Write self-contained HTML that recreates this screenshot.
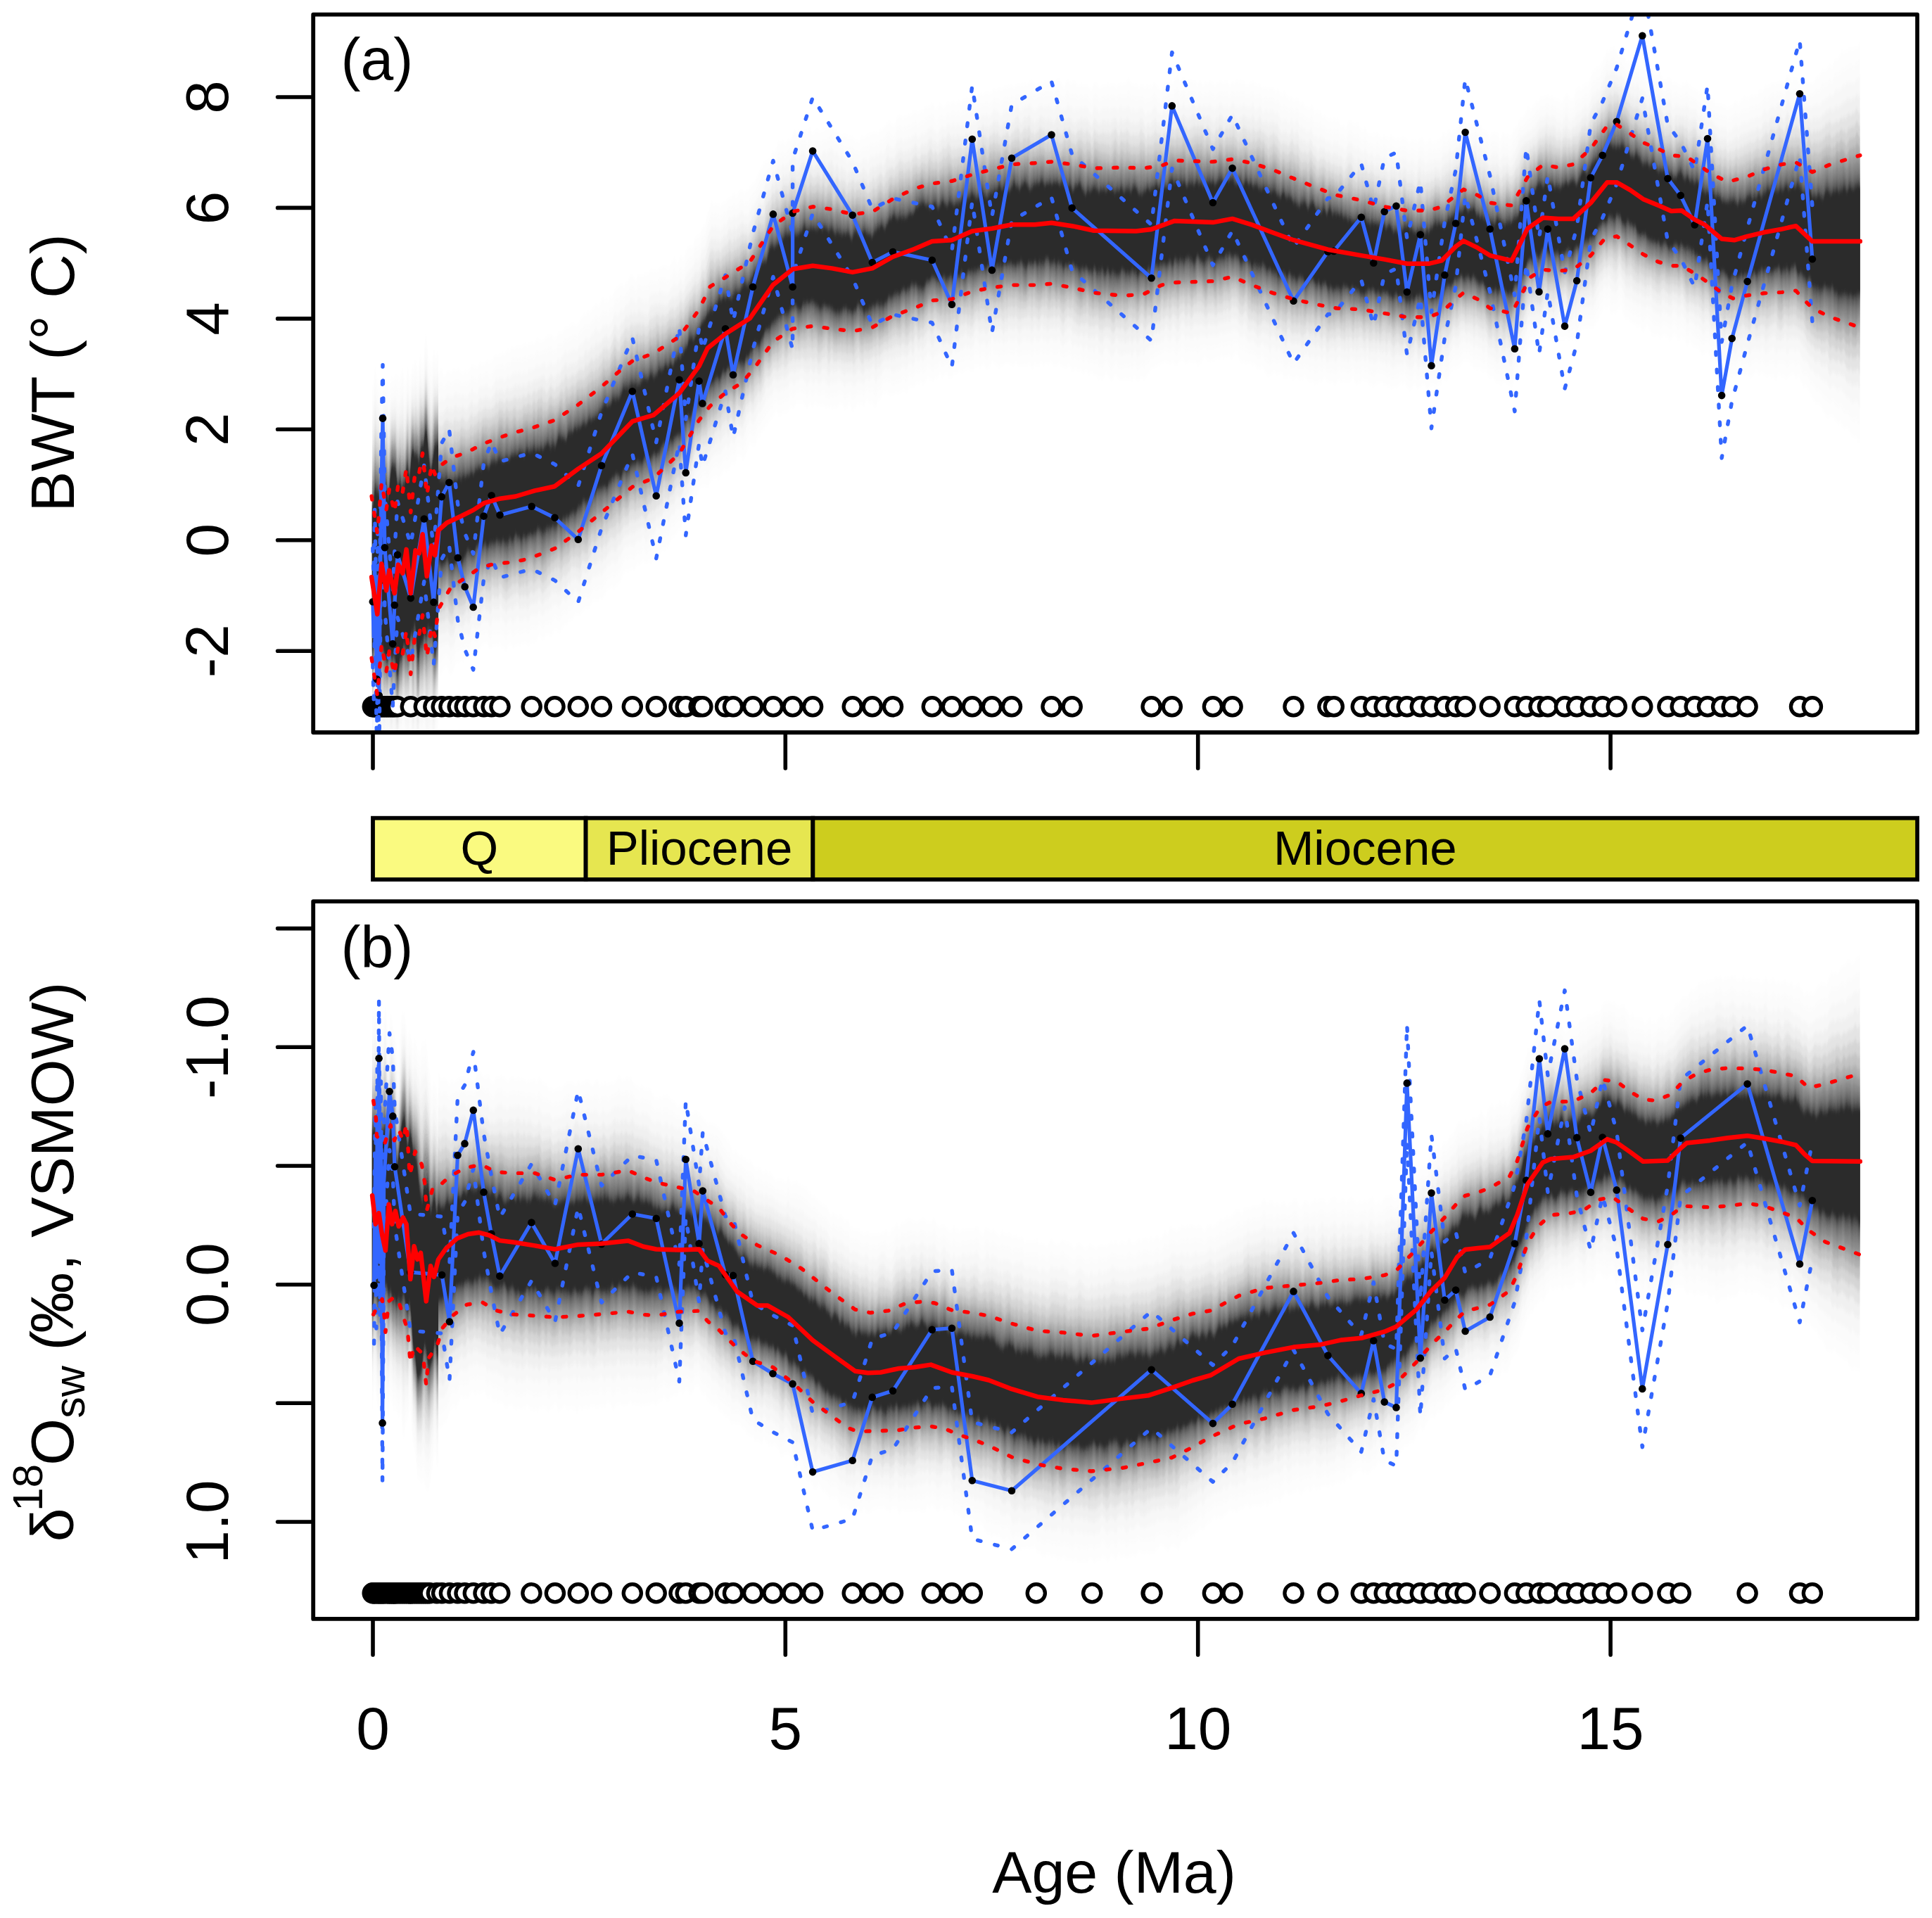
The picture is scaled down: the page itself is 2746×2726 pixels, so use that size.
<!DOCTYPE html>
<html><head><meta charset="utf-8"><title>BWT and d18Osw</title>
<style>html,body{margin:0;padding:0;background:#fff;overflow:hidden;width:2746px;height:2726px}svg{display:block}</style></head>
<body>
<svg width="2746" height="2726" viewBox="0 0 2746 2726" font-family='"Liberation Sans", Arial, Helvetica, sans-serif'>
<rect width="2746" height="2726" fill="#fff"/>
<defs><filter id="vb" x="0" y="-10%" width="100%" height="120%" color-interpolation-filters="sRGB"><feGaussianBlur in="SourceGraphic" stdDeviation="0 3" result="b"/><feTurbulence type="fractalNoise" baseFrequency="0.13 0.008" numOctaves="2" seed="7" result="n"/><feColorMatrix in="n" type="matrix" values="0 0 0 0 0.5  0 1 0 0 0  0 0 1 0 0  0 0 0 0 1" result="n2"/><feDisplacementMap in="b" in2="n2" scale="22" xChannelSelector="R" yChannelSelector="G"/></filter><filter id="vb2" x="0" y="-40%" width="100%" height="180%" color-interpolation-filters="sRGB"><feGaussianBlur in="SourceGraphic" stdDeviation="0 5" result="b"/><feTurbulence type="fractalNoise" baseFrequency="0.1 0.002" numOctaves="2" seed="11" result="n"/><feColorMatrix in="n" type="matrix" values="0 0 0 0 0.5  0 1 0 0 0  0 0 1 0 0  0 0 0 0 1" result="n2"/><feDisplacementMap in="b" in2="n2" scale="150" xChannelSelector="R" yChannelSelector="G"/></filter></defs>
<clipPath id="ca"><rect x="445.2" y="20.7" width="2279.9" height="1020.3"/></clipPath>
<g clip-path="url(#ca)">
<g filter="url(#vb2)"><polygon points="528.8,548.8 560,543.8 590,515.8 623,506.8 623,1059.2 590,1064.2 560,1072.2 528.8,1071.2" fill="rgb(43,43,43)" fill-opacity="0.006"/>
<polygon points="528.8,566.1 560,561.1 590,533.1 623,524.1 623,1041.9 590,1046.9 560,1054.9 528.8,1053.9" fill="rgb(43,43,43)" fill-opacity="0.014"/>
<polygon points="528.8,583.4 560,578.4 590,550.4 623,541.4 623,1024.6 590,1029.6 560,1037.6 528.8,1036.6" fill="rgb(43,43,43)" fill-opacity="0.020"/>
<polygon points="528.8,600.7 560,595.7 590,567.7 623,558.7 623,1007.3 590,1012.3 560,1020.3 528.8,1019.3" fill="rgb(43,43,43)" fill-opacity="0.036"/>
<polygon points="528.8,616.3 560,611.3 590,583.3 623,574.3 623,991.7 590,996.7 560,1004.7 528.8,1003.7" fill="rgb(43,43,43)" fill-opacity="0.059"/>
<polygon points="528.8,630.1 560,625.1 590,597.1 623,588.1 623,977.9 590,982.9 560,990.9 528.8,989.9" fill="rgb(43,43,43)" fill-opacity="0.080"/>
<polygon points="528.8,642.2 560,637.2 590,609.2 623,600.2 623,965.8 590,970.8 560,978.8 528.8,977.8" fill="rgb(43,43,43)" fill-opacity="0.100"/>
<polygon points="528.8,652.6 560,647.6 590,619.6 623,610.6 623,955.4 590,960.4 560,968.4 528.8,967.4" fill="rgb(43,43,43)" fill-opacity="0.125"/>
<polygon points="528.8,661.3 560,656.3 590,628.3 623,619.3 623,946.7 590,951.7 560,959.7 528.8,958.7" fill="rgb(43,43,43)" fill-opacity="0.159"/>
<polygon points="528.8,669 560,664 590,636 623,627 623,939 590,944 560,952 528.8,951" fill="rgb(43,43,43)" fill-opacity="0.151"/>
<polygon points="528.8,676 560,671 590,643 623,634 623,932 590,937 560,945 528.8,944" fill="rgb(43,43,43)" fill-opacity="0.156"/>
<polygon points="528.8,682 560,677 590,649 623,640 623,926 590,931 560,939 528.8,938" fill="rgb(43,43,43)" fill-opacity="0.211"/>
<polygon points="528.8,687.2 560,682.2 590,654.2 623,645.2 623,920.8 590,925.8 560,933.8 528.8,932.8" fill="rgb(43,43,43)" fill-opacity="0.267"/>
<polygon points="528.8,691.1 560,686.1 590,658.1 623,649.1 623,916.9 590,921.9 560,929.9 528.8,928.9" fill="rgb(43,43,43)" fill-opacity="0.455"/>
<polygon points="528.8,695 560,690 590,662 623,653 623,913 590,918 560,926 528.8,925" fill="rgb(43,43,43)" fill-opacity="1.000"/></g>
<g filter="url(#vb)"><polygon points="623,529.9 641.3,529.9 663.3,526.5 681.1,519.5 686,516.1 703.8,508.1 707,506.2 726.4,496 730.3,494.2 750.6,488.3 755.5,487.5 788.5,477.1 821.8,456.4 855,432.1 878,411.4 898.8,395.6 929.1,385.8 965.5,369.3 993.6,337 1009.3,295.7 1031,286.2 1054.7,270.9 1065.7,268.1 1073,255.3 1098.9,213.2 1126.6,191.9 1155.1,182.2 1182.5,185.9 1211.7,195.6 1239.8,193.1 1269,173.7 1299.3,156.7 1324.8,151.8 1352.9,146.9 1381.8,139 1409.9,130.5 1438,120.8 1470.8,117.8 1494.5,115.9 1523.7,118.4 1554.7,122.7 1596.5,118 1625.7,121.5 1651.2,123.8 1669.5,114.1 1723.9,118.3 1751.6,116.4 1779,117.8 1808.2,125.7 1838.5,140.9 1870.2,157.2 1899.4,171.8 1934.8,182.7 1967.7,194.2 1999.8,199.7 2030.8,199.7 2049.1,195.4 2069.1,180.2 2080.1,172.9 2100.1,180.2 2117.7,189.9 2148.5,191.2 2163.8,165.3 2171.1,153.5 2174.8,153.4 2193,136.4 2214.9,141.3 2236.1,135.2 2260.9,112.1 2280.6,81.8 2284.3,73.8 2297.8,72.6 2317.1,85.4 2335.4,98.2 2357.3,106.1 2375.5,117.6 2390.1,119.7 2397.4,117.9 2412,129.2 2415.7,131.8 2430.3,142 2433.9,144.4 2447.1,148 2455.8,151.9 2463.1,146.3 2483.6,140.3 2506.9,125.2 2532.5,114.1 2552.5,110.7 2565.3,114.1 2575.9,117.4 2601.8,90.8 2643.7,60.1 2643.7,626.1 2601.8,593.6 2575.9,565.2 2565.3,551.2 2552.5,533.2 2532.5,534.9 2506.9,532.5 2483.6,530.6 2463.1,534.4 2455.8,527.1 2447.1,522.5 2433.9,509.9 2430.3,507 2415.7,496.8 2412,494.2 2397.4,486.9 2390.1,480.2 2375.5,481 2357.3,477.9 2335.4,465.8 2317.1,453 2297.8,440.2 2284.3,443.8 2280.6,441.7 2260.9,462.8 2236.1,481.7 2214.9,481.8 2193,481.2 2174.8,489.7 2171.1,499.9 2163.8,515.6 2148.5,546.1 2117.7,536.3 2100.1,522.4 2080.1,512.5 2069.1,522.4 2049.1,541.8 2030.8,550.3 1999.8,550.3 1967.7,544.8 1934.8,541.8 1899.4,543.5 1870.2,541.7 1838.5,538 1808.2,531.2 1779,519.1 1751.6,503.3 1723.9,511.2 1669.5,515.4 1651.2,516.7 1625.7,535.5 1596.5,540.4 1554.7,532.4 1523.7,523.9 1494.5,517.3 1470.8,519.1 1438,517.9 1409.9,519.1 1381.8,523.4 1352.9,535.6 1324.8,536.2 1299.3,549.5 1269,558.1 1239.8,573.3 1211.7,580 1182.5,578.7 1155.1,575.1 1126.6,576.3 1098.9,593.4 1073,627.7 1065.7,634.8 1054.7,652 1031,666.4 1009.3,688.6 993.6,700.3 965.5,753.7 929.1,795.6 898.8,809.6 878,827.5 855,846 821.8,874.6 788.5,899.5 755.5,913.6 750.6,915.9 730.3,919.2 726.4,919.6 707,917.5 703.8,917 686,921 681.1,921.6 663.3,936.8 641.3,954.5 623,954.5" fill="rgb(43,43,43)" fill-opacity="0.006"/>
<polygon points="623,548.3 641.3,548.3 663.3,544.3 681.1,536.8 686,533.6 703.8,525.8 707,524 726.4,514.3 730.3,512.6 750.6,506.7 755.5,505.9 788.5,495.3 821.8,474.5 855,449.9 878,429.4 898.8,413.4 929.1,403.5 965.5,385.9 993.6,352.7 1009.3,312.7 1031,302.6 1054.7,287.4 1065.7,284 1073,271.4 1098.9,229.6 1126.6,208.5 1155.1,199.2 1182.5,202.8 1211.7,212.2 1239.8,209.5 1269,190.3 1299.3,173.6 1324.8,168.4 1352.9,163.7 1381.8,155.6 1409.9,147.3 1438,137.9 1470.8,135.1 1494.5,133.3 1523.7,135.9 1554.7,140.4 1596.5,136.2 1625.7,139.4 1651.2,140.8 1669.5,131.5 1723.9,135.3 1751.6,133.1 1779,135.1 1808.2,143.2 1838.5,158 1870.2,173.8 1899.4,187.8 1934.8,198.2 1967.7,209.4 1999.8,214.8 2030.8,214.8 2049.1,210.4 2069.1,195 2080.1,187.5 2100.1,195 2117.7,204.9 2148.5,206.5 2163.8,180.5 2171.1,168.4 2174.8,167.9 2193,151.3 2214.9,156 2236.1,150.2 2260.9,127.3 2280.6,97.3 2284.3,89.8 2297.8,88.5 2317.1,101.3 2335.4,114.1 2357.3,122.2 2375.5,133.3 2390.1,135.2 2397.4,133.8 2412,145 2415.7,147.5 2430.3,157.7 2433.9,160.2 2447.1,164.2 2455.8,168.1 2463.1,163.1 2483.6,157.1 2506.9,142.8 2532.5,132.3 2552.5,128.9 2565.3,133 2575.9,136.7 2601.8,112.5 2643.7,84.6 2643.7,601.7 2601.8,571.9 2575.9,545.9 2565.3,532.3 2552.5,514.9 2532.5,516.7 2506.9,514.9 2483.6,513.8 2463.1,517.6 2455.8,510.9 2447.1,506.3 2433.9,494.2 2430.3,491.3 2415.7,481 2412,478.5 2397.4,470.9 2390.1,464.6 2375.5,465.3 2357.3,461.9 2335.4,449.9 2317.1,437.1 2297.8,424.3 2284.3,427.8 2280.6,426.1 2260.9,447.6 2236.1,466.7 2214.9,467.1 2193,466.3 2174.8,475.2 2171.1,485 2163.8,500.5 2148.5,530.8 2117.7,521.4 2100.1,507.6 2080.1,497.9 2069.1,507.6 2049.1,526.9 2030.8,535.2 1999.8,535.2 1967.7,529.7 1934.8,526.3 1899.4,527.5 1870.2,525.1 1838.5,520.8 1808.2,513.7 1779,501.8 1751.6,486.6 1723.9,494.2 1669.5,498.1 1651.2,499.7 1625.7,517.6 1596.5,522.2 1554.7,514.7 1523.7,506.4 1494.5,499.9 1470.8,501.8 1438,500.7 1409.9,502.4 1381.8,506.8 1352.9,518.8 1324.8,519.6 1299.3,532.6 1269,541.5 1239.8,556.9 1211.7,563.4 1182.5,561.8 1155.1,558.1 1126.6,559.7 1098.9,577 1073,611.6 1065.7,619 1054.7,635.6 1031,650 1009.3,671.6 993.6,684.6 965.5,737.1 929.1,777.9 898.8,791.7 878,809.5 855,828.2 821.8,856.6 788.5,881.3 755.5,895.1 750.6,897.4 730.3,900.9 726.4,901.3 707,899.7 703.8,899.4 686,903.5 681.1,904.2 663.3,919.1 641.3,936.1 623,936.1" fill="rgb(43,43,43)" fill-opacity="0.014"/>
<polygon points="623,566.6 641.3,566.6 663.3,562 681.1,554.2 686,551.1 703.8,543.5 707,541.8 726.4,532.6 730.3,531 750.6,525.2 755.5,524.3 788.5,513.6 821.8,492.5 855,467.8 878,447.3 898.8,431.3 929.1,421.2 965.5,402.5 993.6,368.3 1009.3,329.7 1031,319 1054.7,303.9 1065.7,299.8 1073,287.4 1098.9,246 1126.6,225.1 1155.1,216.2 1182.5,219.8 1211.7,228.8 1239.8,226 1269,206.9 1299.3,190.6 1324.8,185 1352.9,180.5 1381.8,172.2 1409.9,164.1 1438,155.1 1470.8,152.4 1494.5,150.6 1523.7,153.4 1554.7,158.1 1596.5,154.5 1625.7,157.2 1651.2,157.8 1669.5,148.8 1723.9,152.3 1751.6,149.8 1779,152.4 1808.2,160.7 1838.5,175.2 1870.2,190.5 1899.4,203.9 1934.8,213.7 1967.7,224.5 1999.8,230 2030.8,230 2049.1,225.3 2069.1,209.7 2080.1,202.2 2100.1,209.7 2117.7,219.9 2148.5,221.9 2163.8,195.6 2171.1,183.4 2174.8,182.5 2193,166.2 2214.9,170.7 2236.1,165.1 2260.9,142.4 2280.6,112.9 2284.3,105.7 2297.8,104.4 2317.1,117.2 2335.4,129.9 2357.3,138.2 2375.5,149 2390.1,150.8 2397.4,149.7 2412,160.7 2415.7,163.3 2430.3,173.5 2433.9,176 2447.1,180.3 2455.8,184.3 2463.1,179.8 2483.6,174 2506.9,160.4 2532.5,150.4 2552.5,147.2 2565.3,151.9 2575.9,156.1 2601.8,134.2 2643.7,109 2643.7,577.2 2601.8,550.2 2575.9,526.5 2565.3,513.4 2552.5,496.7 2532.5,498.6 2506.9,497.3 2483.6,496.9 2463.1,500.8 2455.8,494.6 2447.1,490.1 2433.9,478.4 2430.3,475.5 2415.7,465.3 2412,462.7 2397.4,455 2390.1,449 2375.5,449.6 2357.3,445.8 2335.4,434 2317.1,421.2 2297.8,408.5 2284.3,411.8 2280.6,410.6 2260.9,432.5 2236.1,451.7 2214.9,452.4 2193,451.4 2174.8,460.7 2171.1,470 2163.8,485.3 2148.5,515.5 2117.7,506.4 2100.1,492.8 2080.1,483.2 2069.1,492.8 2049.1,511.9 2030.8,520 1999.8,520 1967.7,514.5 1934.8,510.7 1899.4,511.4 1870.2,508.5 1838.5,503.7 1808.2,496.2 1779,484.4 1751.6,469.9 1723.9,477.3 1669.5,480.8 1651.2,482.8 1625.7,499.7 1596.5,503.9 1554.7,497 1523.7,488.9 1494.5,482.6 1470.8,484.4 1438,483.6 1409.9,485.6 1381.8,490.2 1352.9,502 1324.8,503 1299.3,515.6 1269,524.9 1239.8,540.5 1211.7,546.8 1182.5,544.8 1155.1,541.1 1126.6,543.1 1098.9,560.5 1073,595.5 1065.7,603.1 1054.7,619.1 1031,633.5 1009.3,654.6 993.6,668.9 965.5,720.5 929.1,760.2 898.8,773.8 878,791.5 855,810.3 821.8,838.5 788.5,863 755.5,876.7 750.6,878.9 730.3,882.5 726.4,883 707,881.9 703.8,881.7 686,886 681.1,886.8 663.3,901.4 641.3,917.8 623,917.8" fill="rgb(43,43,43)" fill-opacity="0.020"/>
<polygon points="623,585 641.3,585 663.3,579.7 681.1,571.6 686,568.6 703.8,561.1 707,559.5 726.4,550.9 730.3,549.3 750.6,543.7 755.5,542.7 788.5,531.8 821.8,510.6 855,485.7 878,465.3 898.8,449.2 929.1,438.9 965.5,419.1 993.6,384 1009.3,346.6 1031,335.4 1054.7,320.3 1065.7,315.6 1073,303.5 1098.9,262.5 1126.6,241.7 1155.1,233.1 1182.5,236.8 1211.7,245.4 1239.8,242.4 1269,223.5 1299.3,207.6 1324.8,201.6 1352.9,197.3 1381.8,188.8 1409.9,180.9 1438,172.3 1470.8,169.8 1494.5,168 1523.7,170.9 1554.7,175.8 1596.5,172.7 1625.7,175.1 1651.2,174.7 1669.5,166.1 1723.9,169.3 1751.6,166.5 1779,169.8 1808.2,178.2 1838.5,192.3 1870.2,207.1 1899.4,220 1934.8,229.2 1967.7,239.6 1999.8,245.1 2030.8,245.1 2049.1,240.3 2069.1,224.5 2080.1,216.9 2100.1,224.5 2117.7,234.8 2148.5,237.2 2163.8,210.7 2171.1,198.4 2174.8,197 2193,181.1 2214.9,185.4 2236.1,180.1 2260.9,157.6 2280.6,128.4 2284.3,121.7 2297.8,120.3 2317.1,133 2335.4,145.8 2357.3,154.3 2375.5,164.7 2390.1,166.4 2397.4,165.7 2412,176.5 2415.7,179.1 2430.3,189.3 2433.9,191.8 2447.1,196.5 2455.8,200.5 2463.1,196.6 2483.6,190.8 2506.9,178 2532.5,168.6 2552.5,165.4 2565.3,170.8 2575.9,175.4 2601.8,156 2643.7,133.5 2643.7,552.8 2601.8,528.4 2575.9,507.2 2565.3,494.6 2552.5,478.4 2532.5,480.4 2506.9,479.7 2483.6,480.1 2463.1,484.1 2455.8,478.4 2447.1,474 2433.9,462.6 2430.3,459.7 2415.7,449.5 2412,446.9 2397.4,439 2390.1,433.5 2375.5,433.9 2357.3,429.7 2335.4,418.1 2317.1,405.4 2297.8,392.6 2284.3,395.8 2280.6,395 2260.9,417.3 2236.1,436.8 2214.9,437.7 2193,436.5 2174.8,446.2 2171.1,455 2163.8,470.2 2148.5,500.1 2117.7,491.5 2100.1,478 2080.1,468.5 2069.1,478 2049.1,496.9 2030.8,504.9 1999.8,504.9 1967.7,499.4 1934.8,495.2 1899.4,495.4 1870.2,491.8 1838.5,486.5 1808.2,478.7 1779,467.1 1751.6,453.2 1723.9,460.3 1669.5,463.4 1651.2,465.8 1625.7,481.8 1596.5,485.7 1554.7,479.3 1523.7,471.4 1494.5,465.3 1470.8,467.1 1438,466.4 1409.9,468.8 1381.8,473.6 1352.9,485.2 1324.8,486.4 1299.3,498.6 1269,508.3 1239.8,524 1211.7,530.2 1182.5,527.8 1155.1,524.2 1126.6,526.5 1098.9,544.1 1073,579.4 1065.7,587.3 1054.7,602.6 1031,617.1 1009.3,637.7 993.6,653.2 965.5,703.9 929.1,742.5 898.8,755.9 878,773.6 855,792.4 821.8,820.4 788.5,844.8 755.5,858.3 750.6,860.5 730.3,864.1 726.4,864.7 707,864.2 703.8,864.1 686,868.5 681.1,869.5 663.3,883.7 641.3,899.5 623,899.5" fill="rgb(43,43,43)" fill-opacity="0.036"/>
<polygon points="623,601.5 641.3,601.5 663.3,595.7 681.1,587.2 686,584.3 703.8,577 707,575.5 726.4,567.3 730.3,565.8 750.6,560.3 755.5,559.2 788.5,548.3 821.8,526.9 855,501.8 878,481.5 898.8,465.3 929.1,454.8 965.5,434 993.6,398.2 1009.3,361.9 1031,350.2 1054.7,335.1 1065.7,329.9 1073,318 1098.9,277.2 1126.6,256.7 1155.1,248.4 1182.5,252 1211.7,260.3 1239.8,257.2 1269,238.4 1299.3,222.9 1324.8,216.5 1352.9,212.4 1381.8,203.8 1409.9,196 1438,187.7 1470.8,185.4 1494.5,183.6 1523.7,186.7 1554.7,191.7 1596.5,189.1 1625.7,191.2 1651.2,190 1669.5,181.7 1723.9,184.5 1751.6,181.6 1779,185.4 1808.2,194 1838.5,207.8 1870.2,222 1899.4,234.4 1934.8,243.2 1967.7,253.3 1999.8,258.8 2030.8,258.8 2049.1,253.8 2069.1,237.8 2080.1,230.1 2100.1,237.8 2117.7,248.3 2148.5,251 2163.8,224.3 2171.1,211.8 2174.8,210.1 2193,194.5 2214.9,198.6 2236.1,193.6 2260.9,171.2 2280.6,142.4 2284.3,136.1 2297.8,134.6 2317.1,147.3 2335.4,160.1 2357.3,168.7 2375.5,178.8 2390.1,180.4 2397.4,180 2412,190.7 2415.7,193.3 2430.3,203.5 2433.9,206 2447.1,211.1 2455.8,215.1 2463.1,211.7 2483.6,206 2506.9,193.8 2532.5,185 2552.5,181.9 2565.3,187.8 2575.9,192.8 2601.8,175.5 2643.7,155.5 2643.7,530.8 2601.8,508.9 2575.9,489.8 2565.3,477.6 2552.5,462 2532.5,464 2506.9,463.9 2483.6,464.9 2463.1,469 2455.8,463.9 2447.1,459.4 2433.9,448.4 2430.3,445.5 2415.7,435.3 2412,432.7 2397.4,424.7 2390.1,419.5 2375.5,419.8 2357.3,415.3 2335.4,403.8 2317.1,391.1 2297.8,378.3 2284.3,381.4 2280.6,381.1 2260.9,403.7 2236.1,423.3 2214.9,424.4 2193,423.1 2174.8,433.1 2171.1,441.6 2163.8,456.6 2148.5,486.3 2117.7,478 2100.1,464.7 2080.1,455.3 2069.1,464.7 2049.1,483.5 2030.8,491.2 1999.8,491.2 1967.7,485.8 1934.8,481.3 1899.4,480.9 1870.2,476.9 1838.5,471.1 1808.2,462.9 1779,451.5 1751.6,438.1 1723.9,445 1669.5,447.8 1651.2,450.5 1625.7,465.7 1596.5,469.3 1554.7,463.4 1523.7,455.6 1494.5,449.7 1470.8,451.5 1438,451 1409.9,453.7 1381.8,458.7 1352.9,470.1 1324.8,471.4 1299.3,483.4 1269,493.3 1239.8,509.3 1211.7,515.2 1182.5,512.6 1155.1,508.9 1126.6,511.6 1098.9,529.3 1073,564.9 1065.7,573 1054.7,587.8 1031,602.3 1009.3,622.4 993.6,639.1 965.5,688.9 929.1,726.5 898.8,739.8 878,757.4 855,776.3 821.8,804.2 788.5,828.4 755.5,841.8 750.6,843.8 730.3,847.6 726.4,848.2 707,848.2 703.8,848.2 686,852.8 681.1,853.8 663.3,867.7 641.3,882.9 623,882.9" fill="rgb(43,43,43)" fill-opacity="0.059"/>
<polygon points="623,616.1 641.3,616.1 663.3,609.8 681.1,601.1 686,598.3 703.8,591.2 707,589.7 726.4,582 730.3,580.5 750.6,575.1 755.5,574 788.5,562.9 821.8,541.3 855,516.1 878,495.9 898.8,479.6 929.1,469 965.5,447.3 993.6,410.7 1009.3,375.5 1031,363.4 1054.7,348.3 1065.7,342.6 1073,330.9 1098.9,290.4 1126.6,270 1155.1,262 1182.5,265.6 1211.7,273.6 1239.8,270.3 1269,251.7 1299.3,236.4 1324.8,229.8 1352.9,225.8 1381.8,217 1409.9,209.4 1438,201.4 1470.8,199.2 1494.5,197.4 1523.7,200.7 1554.7,205.9 1596.5,203.7 1625.7,205.5 1651.2,203.6 1669.5,195.6 1723.9,198.1 1751.6,194.9 1779,199.2 1808.2,208 1838.5,221.5 1870.2,235.3 1899.4,247.3 1934.8,255.6 1967.7,265.4 1999.8,270.9 2030.8,270.9 2049.1,265.7 2069.1,249.7 2080.1,241.8 2100.1,249.7 2117.7,260.3 2148.5,263.3 2163.8,236.4 2171.1,223.8 2174.8,221.7 2193,206.4 2214.9,210.4 2236.1,205.6 2260.9,183.3 2280.6,154.8 2284.3,148.9 2297.8,147.3 2317.1,160 2335.4,172.8 2357.3,181.6 2375.5,191.4 2390.1,192.9 2397.4,192.8 2412,203.3 2415.7,205.9 2430.3,216.1 2433.9,218.6 2447.1,224 2455.8,228 2463.1,225.1 2483.6,219.5 2506.9,207.9 2532.5,199.5 2552.5,196.5 2565.3,202.9 2575.9,208.3 2601.8,192.9 2643.7,175 2643.7,511.2 2601.8,491.5 2575.9,474.3 2565.3,462.5 2552.5,447.4 2532.5,449.5 2506.9,449.8 2483.6,451.4 2463.1,455.6 2455.8,450.9 2447.1,446.5 2433.9,435.7 2430.3,432.9 2415.7,422.7 2412,420.1 2397.4,411.9 2390.1,407 2375.5,407.2 2357.3,402.4 2335.4,391.1 2317.1,378.4 2297.8,365.6 2284.3,368.7 2280.6,368.6 2260.9,391.6 2236.1,411.3 2214.9,412.7 2193,411.2 2174.8,421.5 2171.1,429.6 2163.8,444.5 2148.5,474.1 2117.7,466 2100.1,452.9 2080.1,443.6 2069.1,452.9 2049.1,471.5 2030.8,479.1 1999.8,479.1 1967.7,473.7 1934.8,468.9 1899.4,468.1 1870.2,463.6 1838.5,457.3 1808.2,448.9 1779,437.6 1751.6,424.8 1723.9,431.5 1669.5,434 1651.2,436.9 1625.7,451.4 1596.5,454.7 1554.7,449.2 1523.7,441.6 1494.5,435.8 1470.8,437.6 1438,437.3 1409.9,440.2 1381.8,445.4 1352.9,456.7 1324.8,458.1 1299.3,469.8 1269,480 1239.8,496.1 1211.7,501.9 1182.5,499 1155.1,495.3 1126.6,498.3 1098.9,516.2 1073,552.1 1065.7,560.4 1054.7,574.7 1031,589.2 1009.3,608.8 993.6,626.5 965.5,675.7 929.1,712.4 898.8,725.5 878,743 855,762 821.8,789.7 788.5,813.8 755.5,827 750.6,829.1 730.3,832.9 726.4,833.6 707,834 703.8,834 686,838.8 681.1,839.9 663.3,853.5 641.3,868.3 623,868.3" fill="rgb(43,43,43)" fill-opacity="0.080"/>
<polygon points="623,629 641.3,629 663.3,622.3 681.1,613.3 686,610.6 703.8,603.5 707,602.2 726.4,594.8 730.3,593.4 750.6,588 755.5,586.8 788.5,575.6 821.8,554 855,528.6 878,508.4 898.8,492.1 929.1,481.4 965.5,459 993.6,421.7 1009.3,387.4 1031,374.9 1054.7,359.8 1065.7,353.7 1073,342.1 1098.9,301.9 1126.6,281.6 1155.1,273.9 1182.5,277.5 1211.7,285.2 1239.8,281.8 1269,263.3 1299.3,248.3 1324.8,241.4 1352.9,237.6 1381.8,228.7 1409.9,221.1 1438,213.4 1470.8,211.4 1494.5,209.6 1523.7,213 1554.7,218.3 1596.5,216.5 1625.7,218 1651.2,215.5 1669.5,207.7 1723.9,210 1751.6,206.6 1779,211.4 1808.2,220.3 1838.5,233.5 1870.2,246.9 1899.4,258.5 1934.8,266.4 1967.7,276 1999.8,281.5 2030.8,281.5 2049.1,276.2 2069.1,260 2080.1,252.1 2100.1,260 2117.7,270.7 2148.5,274 2163.8,247 2171.1,234.3 2174.8,231.9 2193,216.8 2214.9,220.7 2236.1,216 2260.9,193.9 2280.6,165.7 2284.3,160.1 2297.8,158.4 2317.1,171.2 2335.4,183.9 2357.3,192.8 2375.5,202.4 2390.1,203.8 2397.4,203.9 2412,214.4 2415.7,216.9 2430.3,227.1 2433.9,229.7 2447.1,235.3 2455.8,239.4 2463.1,236.8 2483.6,231.3 2506.9,220.2 2532.5,212.3 2552.5,209.2 2565.3,216.1 2575.9,221.8 2601.8,208.1 2643.7,192.1 2643.7,494.1 2601.8,476.3 2575.9,460.8 2565.3,449.3 2552.5,434.6 2532.5,436.7 2506.9,437.5 2483.6,439.6 2463.1,443.8 2455.8,439.5 2447.1,435.1 2433.9,424.7 2430.3,421.9 2415.7,411.7 2412,409.1 2397.4,400.8 2390.1,396.1 2375.5,396.2 2357.3,391.2 2335.4,380 2317.1,367.2 2297.8,354.5 2284.3,357.5 2280.6,357.7 2260.9,381 2236.1,400.9 2214.9,402.4 2193,400.8 2174.8,411.3 2171.1,419.1 2163.8,433.9 2148.5,463.3 2117.7,455.5 2100.1,442.6 2080.1,433.3 2069.1,442.6 2049.1,461 2030.8,468.5 1999.8,468.5 1967.7,463.1 1934.8,458 1899.4,456.8 1870.2,452 1838.5,445.3 1808.2,436.6 1779,425.5 1751.6,413.1 1723.9,419.6 1669.5,421.8 1651.2,425.1 1625.7,438.9 1596.5,441.9 1554.7,436.9 1523.7,429.3 1494.5,423.7 1470.8,425.5 1438,425.3 1409.9,428.5 1381.8,433.7 1352.9,444.9 1324.8,446.5 1299.3,457.9 1269,468.4 1239.8,484.6 1211.7,490.3 1182.5,487.1 1155.1,483.4 1126.6,486.7 1098.9,504.7 1073,540.8 1065.7,549.3 1054.7,563.1 1031,577.7 1009.3,596.9 993.6,615.5 965.5,664 929.1,700 898.8,713 878,730.4 855,749.5 821.8,777.1 788.5,801 755.5,814.2 750.6,816.1 730.3,820.1 726.4,820.8 707,821.5 703.8,821.7 686,826.5 681.1,827.8 663.3,841.1 641.3,855.4 623,855.4" fill="rgb(43,43,43)" fill-opacity="0.100"/>
<polygon points="623,640 641.3,640 663.3,632.9 681.1,623.7 686,621.1 703.8,614.1 707,612.8 726.4,605.8 730.3,604.4 750.6,599.1 755.5,597.9 788.5,586.6 821.8,564.8 855,539.4 878,519.2 898.8,502.9 929.1,492 965.5,468.9 993.6,431.1 1009.3,397.5 1031,384.7 1054.7,369.7 1065.7,363.2 1073,351.8 1098.9,311.7 1126.6,291.5 1155.1,284 1182.5,287.7 1211.7,295.2 1239.8,291.7 1269,273.3 1299.3,258.5 1324.8,251.4 1352.9,247.6 1381.8,238.6 1409.9,231.2 1438,223.7 1470.8,221.8 1494.5,220 1523.7,223.5 1554.7,228.9 1596.5,227.5 1625.7,228.8 1651.2,225.6 1669.5,218.1 1723.9,220.2 1751.6,216.7 1779,221.8 1808.2,230.8 1838.5,243.8 1870.2,256.9 1899.4,268.1 1934.8,275.8 1967.7,285.1 1999.8,290.6 2030.8,290.6 2049.1,285.2 2069.1,268.9 2080.1,260.9 2100.1,268.9 2117.7,279.7 2148.5,283.2 2163.8,256.1 2171.1,243.3 2174.8,240.6 2193,225.8 2214.9,229.5 2236.1,225 2260.9,203 2280.6,175.1 2284.3,169.7 2297.8,167.9 2317.1,180.7 2335.4,193.5 2357.3,202.5 2375.5,211.8 2390.1,213.1 2397.4,213.5 2412,223.8 2415.7,226.4 2430.3,236.6 2433.9,239.1 2447.1,245 2455.8,249.1 2463.1,246.9 2483.6,241.4 2506.9,230.8 2532.5,223.2 2552.5,220.2 2565.3,227.4 2575.9,233.4 2601.8,221.1 2643.7,206.8 2643.7,479.4 2601.8,463.3 2575.9,449.1 2565.3,437.9 2552.5,423.7 2532.5,425.8 2506.9,427 2483.6,429.5 2463.1,433.8 2455.8,429.8 2447.1,425.4 2433.9,415.2 2430.3,412.4 2415.7,402.2 2412,399.6 2397.4,391.2 2390.1,386.7 2375.5,386.8 2357.3,381.6 2335.4,370.5 2317.1,357.7 2297.8,344.9 2284.3,347.9 2280.6,348.4 2260.9,371.9 2236.1,391.9 2214.9,393.6 2193,391.8 2174.8,402.6 2171.1,410.1 2163.8,424.8 2148.5,454.1 2117.7,446.6 2100.1,433.7 2080.1,424.5 2069.1,433.7 2049.1,452 2030.8,459.4 1999.8,459.4 1967.7,454 1934.8,448.7 1899.4,447.2 1870.2,442 1838.5,435 1808.2,426.1 1779,415.1 1751.6,403 1723.9,409.4 1669.5,411.4 1651.2,414.9 1625.7,428.2 1596.5,430.9 1554.7,426.2 1523.7,418.8 1494.5,413.3 1470.8,415.1 1438,415 1409.9,418.4 1381.8,423.8 1352.9,434.8 1324.8,436.6 1299.3,447.7 1269,458.5 1239.8,474.8 1211.7,480.4 1182.5,476.9 1155.1,473.3 1126.6,476.7 1098.9,494.8 1073,531.1 1065.7,539.8 1054.7,553.3 1031,567.8 1009.3,586.8 993.6,606.1 965.5,654.1 929.1,689.4 898.8,702.3 878,719.6 855,738.8 821.8,766.2 788.5,790.1 755.5,803.1 750.6,805.1 730.3,809.1 726.4,809.8 707,810.9 703.8,811.1 686,816 681.1,817.4 663.3,830.5 641.3,844.4 623,844.4" fill="rgb(43,43,43)" fill-opacity="0.125"/>
<polygon points="623,649.1 641.3,649.1 663.3,641.7 681.1,632.4 686,629.8 703.8,622.9 707,621.7 726.4,614.9 730.3,613.6 750.6,608.3 755.5,607.1 788.5,595.7 821.8,573.8 855,548.3 878,528.2 898.8,511.8 929.1,500.9 965.5,477.2 993.6,439 1009.3,406 1031,392.9 1054.7,377.9 1065.7,371.1 1073,359.8 1098.9,319.9 1126.6,299.8 1155.1,292.5 1182.5,296.2 1211.7,303.5 1239.8,299.9 1269,281.6 1299.3,267 1324.8,259.7 1352.9,256 1381.8,246.9 1409.9,239.6 1438,232.3 1470.8,230.5 1494.5,228.6 1523.7,232.3 1554.7,237.7 1596.5,236.6 1625.7,237.7 1651.2,234.1 1669.5,226.8 1723.9,228.7 1751.6,225 1779,230.5 1808.2,239.6 1838.5,252.4 1870.2,265.2 1899.4,276.2 1934.8,283.5 1967.7,292.7 1999.8,298.1 2030.8,298.1 2049.1,292.7 2069.1,276.3 2080.1,268.2 2100.1,276.3 2117.7,287.2 2148.5,290.9 2163.8,263.7 2171.1,250.7 2174.8,247.9 2193,233.2 2214.9,236.9 2236.1,232.5 2260.9,210.6 2280.6,182.8 2284.3,177.7 2297.8,175.8 2317.1,188.6 2335.4,201.4 2357.3,210.5 2375.5,219.7 2390.1,220.9 2397.4,221.5 2412,231.7 2415.7,234.3 2430.3,244.5 2433.9,247 2447.1,253.1 2455.8,257.2 2463.1,255.3 2483.6,249.9 2506.9,239.6 2532.5,232.2 2552.5,229.3 2565.3,236.9 2575.9,243.1 2601.8,232 2643.7,219 2643.7,467.2 2601.8,452.4 2575.9,439.5 2565.3,428.5 2552.5,414.6 2532.5,416.8 2506.9,418.2 2483.6,421 2463.1,425.4 2455.8,421.7 2447.1,417.3 2433.9,407.3 2430.3,404.5 2415.7,394.3 2412,391.8 2397.4,383.2 2390.1,379 2375.5,379 2357.3,373.5 2335.4,362.6 2317.1,349.8 2297.8,337 2284.3,339.9 2280.6,340.6 2260.9,364.3 2236.1,384.4 2214.9,386.2 2193,384.4 2174.8,395.3 2171.1,402.6 2163.8,417.3 2148.5,446.5 2117.7,439.1 2100.1,426.3 2080.1,417.2 2069.1,426.3 2049.1,444.6 2030.8,451.9 1999.8,451.9 1967.7,446.4 1934.8,440.9 1899.4,439.2 1870.2,433.7 1838.5,426.5 1808.2,417.4 1779,406.4 1751.6,394.7 1723.9,400.9 1669.5,402.8 1651.2,406.4 1625.7,419.2 1596.5,421.8 1554.7,417.4 1523.7,410.1 1494.5,404.6 1470.8,406.4 1438,406.4 1409.9,410 1381.8,415.5 1352.9,426.4 1324.8,428.3 1299.3,439.2 1269,450.2 1239.8,466.6 1211.7,472 1182.5,468.4 1155.1,464.8 1126.6,468.4 1098.9,486.6 1073,523.1 1065.7,531.8 1054.7,545 1031,559.6 1009.3,578.3 993.6,598.3 965.5,645.8 929.1,680.5 898.8,693.3 878,710.7 855,729.8 821.8,757.2 788.5,780.9 755.5,793.9 750.6,795.8 730.3,799.9 726.4,800.7 707,802 703.8,802.2 686,807.3 681.1,808.7 663.3,821.6 641.3,835.3 623,835.3" fill="rgb(43,43,43)" fill-opacity="0.159"/>
<polygon points="623,657.4 641.3,657.4 663.3,649.7 681.1,640.2 686,637.7 703.8,630.9 707,629.7 726.4,623.2 730.3,621.8 750.6,616.6 755.5,615.4 788.5,603.9 821.8,582 855,556.3 878,536.3 898.8,519.8 929.1,508.8 965.5,484.7 993.6,446 1009.3,413.7 1031,400.3 1054.7,385.4 1065.7,378.2 1073,367.1 1098.9,327.3 1126.6,307.3 1155.1,300.2 1182.5,303.8 1211.7,311 1239.8,307.3 1269,289.1 1299.3,274.6 1324.8,267.2 1352.9,263.6 1381.8,254.4 1409.9,247.2 1438,240 1470.8,238.3 1494.5,236.4 1523.7,240.1 1554.7,245.7 1596.5,244.8 1625.7,245.8 1651.2,241.8 1669.5,234.6 1723.9,236.3 1751.6,232.5 1779,238.3 1808.2,247.4 1838.5,260.1 1870.2,272.7 1899.4,283.4 1934.8,290.5 1967.7,299.5 1999.8,304.9 2030.8,304.9 2049.1,299.4 2069.1,282.9 2080.1,274.8 2100.1,282.9 2117.7,293.9 2148.5,297.8 2163.8,270.5 2171.1,257.5 2174.8,254.4 2193,239.9 2214.9,243.5 2236.1,239.2 2260.9,217.4 2280.6,189.8 2284.3,184.9 2297.8,183 2317.1,195.8 2335.4,208.5 2357.3,217.7 2375.5,226.7 2390.1,227.9 2397.4,228.6 2412,238.8 2415.7,241.3 2430.3,251.6 2433.9,254.1 2447.1,260.4 2455.8,264.5 2463.1,262.8 2483.6,257.5 2506.9,247.5 2532.5,240.4 2552.5,237.5 2565.3,245.4 2575.9,251.8 2601.8,241.8 2643.7,230 2643.7,456.2 2601.8,442.7 2575.9,430.8 2565.3,420 2552.5,406.4 2532.5,408.6 2506.9,410.3 2483.6,413.4 2463.1,417.9 2455.8,414.4 2447.1,410.1 2433.9,400.2 2430.3,397.4 2415.7,387.2 2412,384.7 2397.4,376.1 2390.1,372 2375.5,371.9 2357.3,366.3 2335.4,355.4 2317.1,342.6 2297.8,329.9 2284.3,332.7 2280.6,333.6 2260.9,357.5 2236.1,377.7 2214.9,379.6 2193,377.7 2174.8,388.8 2171.1,395.9 2163.8,410.4 2148.5,439.6 2117.7,432.3 2100.1,419.6 2080.1,410.6 2069.1,419.6 2049.1,437.8 2030.8,445.1 1999.8,445.1 1967.7,439.6 1934.8,434 1899.4,431.9 1870.2,426.3 1838.5,418.8 1808.2,409.5 1779,398.6 1751.6,387.2 1723.9,393.3 1669.5,395 1651.2,398.7 1625.7,411.2 1596.5,413.6 1554.7,409.4 1523.7,402.2 1494.5,396.8 1470.8,398.6 1438,398.7 1409.9,402.5 1381.8,408 1352.9,418.9 1324.8,420.8 1299.3,431.6 1269,442.7 1239.8,459.2 1211.7,464.6 1182.5,460.8 1155.1,457.1 1126.6,460.9 1098.9,479.2 1073,515.9 1065.7,524.7 1054.7,537.6 1031,552.2 1009.3,570.6 993.6,591.2 965.5,638.3 929.1,672.6 898.8,685.3 878,702.6 855,721.8 821.8,749.1 788.5,772.7 755.5,785.6 750.6,787.5 730.3,791.6 726.4,792.4 707,794 703.8,794.3 686,799.4 681.1,800.9 663.3,813.7 641.3,827 623,827" fill="rgb(43,43,43)" fill-opacity="0.151"/>
<polygon points="623,664.7 641.3,664.7 663.3,656.8 681.1,647.1 686,644.7 703.8,638 707,636.8 726.4,630.5 730.3,629.2 750.6,624 755.5,622.7 788.5,611.2 821.8,589.2 855,563.5 878,543.5 898.8,527 929.1,515.9 965.5,491.3 993.6,452.3 1009.3,420.5 1031,406.9 1054.7,391.9 1065.7,384.5 1073,373.5 1098.9,333.9 1126.6,314 1155.1,306.9 1182.5,310.6 1211.7,317.6 1239.8,313.8 1269,295.7 1299.3,281.4 1324.8,273.8 1352.9,270.3 1381.8,261 1409.9,253.9 1438,246.9 1470.8,245.2 1494.5,243.4 1523.7,247.2 1554.7,252.8 1596.5,252.1 1625.7,252.9 1651.2,248.6 1669.5,241.5 1723.9,243.1 1751.6,239.2 1779,245.2 1808.2,254.5 1838.5,266.9 1870.2,279.3 1899.4,289.8 1934.8,296.7 1967.7,305.5 1999.8,311 2030.8,311 2049.1,305.4 2069.1,288.8 2080.1,280.7 2100.1,288.8 2117.7,299.9 2148.5,303.9 2163.8,276.5 2171.1,263.5 2174.8,260.2 2193,245.9 2214.9,249.4 2236.1,245.2 2260.9,223.4 2280.6,196 2284.3,191.2 2297.8,189.3 2317.1,202.1 2335.4,214.9 2357.3,224.2 2375.5,233 2390.1,234.1 2397.4,235 2412,245.1 2415.7,247.7 2430.3,257.9 2433.9,260.4 2447.1,266.9 2455.8,271 2463.1,269.5 2483.6,264.2 2506.9,254.5 2532.5,247.7 2552.5,244.8 2565.3,252.9 2575.9,259.6 2601.8,250.4 2643.7,239.8 2643.7,446.4 2601.8,434 2575.9,423 2565.3,412.4 2552.5,399.1 2532.5,401.3 2506.9,403.2 2483.6,406.7 2463.1,411.2 2455.8,407.9 2447.1,403.6 2433.9,393.9 2430.3,391.1 2415.7,380.9 2412,378.3 2397.4,369.7 2390.1,365.7 2375.5,365.6 2357.3,359.9 2335.4,349.1 2317.1,336.3 2297.8,323.5 2284.3,326.3 2280.6,327.4 2260.9,351.5 2236.1,371.7 2214.9,373.7 2193,371.7 2174.8,383 2171.1,389.9 2163.8,404.4 2148.5,433.4 2117.7,426.4 2100.1,413.7 2080.1,404.7 2069.1,413.7 2049.1,431.8 2030.8,439 1999.8,439 1967.7,433.5 1934.8,427.8 1899.4,425.5 1870.2,419.6 1838.5,411.9 1808.2,402.5 1779,391.7 1751.6,380.5 1723.9,386.5 1669.5,388 1651.2,392 1625.7,404 1596.5,406.3 1554.7,402.3 1523.7,395.2 1494.5,389.8 1470.8,391.7 1438,391.8 1409.9,395.7 1381.8,401.4 1352.9,412.2 1324.8,414.1 1299.3,424.8 1269,436 1239.8,452.6 1211.7,457.9 1182.5,454 1155.1,450.4 1126.6,454.3 1098.9,472.7 1073,509.4 1065.7,518.4 1054.7,531 1031,545.7 1009.3,563.9 993.6,584.9 965.5,631.7 929.1,665.5 898.8,678.1 878,695.4 855,714.6 821.8,741.8 788.5,765.4 755.5,778.3 750.6,780.1 730.3,784.3 726.4,785.1 707,786.9 703.8,787.2 686,792.4 681.1,793.9 663.3,806.6 641.3,819.7 623,819.7" fill="rgb(43,43,43)" fill-opacity="0.156"/>
<polygon points="623,671.1 641.3,671.1 663.3,663 681.1,653.2 686,650.8 703.8,644.1 707,643 726.4,636.9 730.3,635.6 750.6,630.5 755.5,629.2 788.5,617.6 821.8,595.5 855,569.8 878,549.8 898.8,533.3 929.1,522.1 965.5,497.1 993.6,457.8 1009.3,426.4 1031,412.6 1054.7,397.7 1065.7,390.1 1073,379.1 1098.9,339.6 1126.6,319.8 1155.1,312.9 1182.5,316.5 1211.7,323.4 1239.8,319.6 1269,301.5 1299.3,287.3 1324.8,279.6 1352.9,276.2 1381.8,266.9 1409.9,259.8 1438,252.9 1470.8,251.3 1494.5,249.4 1523.7,253.3 1554.7,259 1596.5,258.5 1625.7,259.2 1651.2,254.5 1669.5,247.6 1723.9,249 1751.6,245.1 1779,251.3 1808.2,260.6 1838.5,272.9 1870.2,285.1 1899.4,295.4 1934.8,302.1 1967.7,310.8 1999.8,316.3 2030.8,316.3 2049.1,310.6 2069.1,294 2080.1,285.8 2100.1,294 2117.7,305.2 2148.5,309.3 2163.8,281.8 2171.1,268.7 2174.8,265.3 2193,251.1 2214.9,254.5 2236.1,250.4 2260.9,228.8 2280.6,201.5 2284.3,196.8 2297.8,194.9 2317.1,207.7 2335.4,220.4 2357.3,229.8 2375.5,238.5 2390.1,239.6 2397.4,240.6 2412,250.6 2415.7,253.2 2430.3,263.4 2433.9,266 2447.1,272.5 2455.8,276.7 2463.1,275.4 2483.6,270.1 2506.9,260.7 2532.5,254.1 2552.5,251.2 2565.3,259.5 2575.9,266.3 2601.8,258 2643.7,248.4 2643.7,437.9 2601.8,426.4 2575.9,416.3 2565.3,405.8 2552.5,392.7 2532.5,394.9 2506.9,397.1 2483.6,400.8 2463.1,405.3 2455.8,402.3 2447.1,397.9 2433.9,388.4 2430.3,385.6 2415.7,375.4 2412,372.8 2397.4,364.1 2390.1,360.3 2375.5,360.1 2357.3,354.2 2335.4,343.5 2317.1,330.7 2297.8,318 2284.3,320.7 2280.6,322 2260.9,346.1 2236.1,366.4 2214.9,368.5 2193,366.5 2174.8,377.9 2171.1,384.7 2163.8,399.1 2148.5,428.1 2117.7,421.1 2100.1,408.6 2080.1,399.6 2069.1,408.6 2049.1,426.6 2030.8,433.7 1999.8,433.7 1967.7,428.2 1934.8,422.3 1899.4,419.9 1870.2,413.8 1838.5,405.9 1808.2,396.4 1779,385.6 1751.6,374.6 1723.9,380.5 1669.5,382 1651.2,386 1625.7,397.8 1596.5,399.9 1554.7,396.1 1523.7,389.1 1494.5,383.8 1470.8,385.6 1438,385.8 1409.9,389.9 1381.8,395.6 1352.9,406.3 1324.8,408.3 1299.3,418.9 1269,430.2 1239.8,446.9 1211.7,452.1 1182.5,448.1 1155.1,444.4 1126.6,448.5 1098.9,466.9 1073,503.8 1065.7,512.8 1054.7,525.3 1031,539.9 1009.3,557.9 993.6,579.4 965.5,625.8 929.1,659.3 898.8,671.9 878,689.1 855,708.3 821.8,735.5 788.5,759 755.5,771.8 750.6,773.7 730.3,777.9 726.4,778.7 707,780.7 703.8,781 686,786.3 681.1,787.8 663.3,800.4 641.3,813.3 623,813.3" fill="rgb(43,43,43)" fill-opacity="0.211"/>
<polygon points="623,676.6 641.3,676.6 663.3,668.3 681.1,658.4 686,656 703.8,649.4 707,648.3 726.4,642.4 730.3,641.1 750.6,636 755.5,634.7 788.5,623.1 821.8,600.9 855,575.1 878,555.2 898.8,538.6 929.1,527.4 965.5,502.1 993.6,462.5 1009.3,431.5 1031,417.6 1054.7,402.6 1065.7,394.8 1073,384 1098.9,344.6 1126.6,324.8 1155.1,318 1182.5,321.6 1211.7,328.4 1239.8,324.5 1269,306.5 1299.3,292.4 1324.8,284.6 1352.9,281.2 1381.8,271.8 1409.9,264.8 1438,258 1470.8,256.5 1494.5,254.6 1523.7,258.5 1554.7,264.3 1596.5,264 1625.7,264.5 1651.2,259.6 1669.5,252.8 1723.9,254.1 1751.6,250.1 1779,256.5 1808.2,265.8 1838.5,278.1 1870.2,290.1 1899.4,300.3 1934.8,306.8 1967.7,315.4 1999.8,320.9 2030.8,320.9 2049.1,315.1 2069.1,298.4 2080.1,290.2 2100.1,298.4 2117.7,309.6 2148.5,313.9 2163.8,286.4 2171.1,273.2 2174.8,269.6 2193,255.6 2214.9,259 2236.1,254.9 2260.9,233.3 2280.6,206.1 2284.3,201.6 2297.8,199.7 2317.1,212.4 2335.4,225.2 2357.3,234.6 2375.5,243.2 2390.1,244.2 2397.4,245.4 2412,255.4 2415.7,257.9 2430.3,268.1 2433.9,270.7 2447.1,277.4 2455.8,281.5 2463.1,280.4 2483.6,275.2 2506.9,266 2532.5,259.5 2552.5,256.7 2565.3,265.2 2575.9,272.1 2601.8,264.6 2643.7,255.7 2643.7,430.5 2601.8,419.8 2575.9,410.5 2565.3,400.2 2552.5,387.2 2532.5,389.5 2506.9,391.8 2483.6,395.7 2463.1,400.3 2455.8,397.4 2447.1,393.1 2433.9,383.6 2430.3,380.9 2415.7,370.7 2412,368.1 2397.4,359.3 2390.1,355.6 2375.5,355.4 2357.3,349.4 2335.4,338.7 2317.1,326 2297.8,313.2 2284.3,315.9 2280.6,317.3 2260.9,341.6 2236.1,361.9 2214.9,364.1 2193,362 2174.8,373.5 2171.1,380.2 2163.8,394.6 2148.5,423.5 2117.7,416.6 2100.1,404.1 2080.1,395.2 2069.1,404.1 2049.1,422.1 2030.8,429.1 1999.8,429.1 1967.7,423.7 1934.8,417.7 1899.4,415.1 1870.2,408.8 1838.5,400.7 1808.2,391.1 1779,380.4 1751.6,369.6 1723.9,375.5 1669.5,376.8 1651.2,380.9 1625.7,392.4 1596.5,394.4 1554.7,390.8 1523.7,383.8 1494.5,378.6 1470.8,380.4 1438,380.7 1409.9,384.8 1381.8,390.6 1352.9,401.3 1324.8,403.3 1299.3,413.8 1269,425.2 1239.8,441.9 1211.7,447.1 1182.5,443 1155.1,439.3 1126.6,443.5 1098.9,462 1073,499 1065.7,508.1 1054.7,520.3 1031,535 1009.3,552.8 993.6,574.7 965.5,620.9 929.1,654 898.8,666.5 878,683.7 855,703 821.8,730.1 788.5,753.6 755.5,766.3 750.6,768.1 730.3,772.4 726.4,773.2 707,775.4 703.8,775.7 686,781.1 681.1,782.6 663.3,795.1 641.3,807.8 623,807.8" fill="rgb(43,43,43)" fill-opacity="0.267"/>
<polygon points="623,680.8 641.3,680.8 663.3,672.3 681.1,662.3 686,660 703.8,653.4 707,652.3 726.4,646.5 730.3,645.2 750.6,640.2 755.5,638.8 788.5,627.2 821.8,605 855,579.1 878,559.2 898.8,542.6 929.1,531.4 965.5,505.9 993.6,466 1009.3,435.3 1031,421.3 1054.7,406.3 1065.7,398.4 1073,387.6 1098.9,348.3 1126.6,328.5 1155.1,321.8 1182.5,325.4 1211.7,332.1 1239.8,328.2 1269,310.2 1299.3,296.2 1324.8,288.3 1352.9,285 1381.8,275.6 1409.9,268.6 1438,261.9 1470.8,260.4 1494.5,258.5 1523.7,262.5 1554.7,268.3 1596.5,268.1 1625.7,268.6 1651.2,263.4 1669.5,256.7 1723.9,257.9 1751.6,253.9 1779,260.4 1808.2,269.8 1838.5,282 1870.2,293.8 1899.4,303.9 1934.8,310.3 1967.7,318.8 1999.8,324.3 2030.8,324.3 2049.1,318.5 2069.1,301.8 2080.1,293.6 2100.1,301.8 2117.7,313 2148.5,317.3 2163.8,289.8 2171.1,276.6 2174.8,272.9 2193,258.9 2214.9,262.3 2236.1,258.3 2260.9,236.7 2280.6,209.6 2284.3,205.2 2297.8,203.2 2317.1,216 2335.4,228.8 2357.3,238.2 2375.5,246.7 2390.1,247.7 2397.4,249 2412,258.9 2415.7,261.5 2430.3,271.7 2433.9,274.3 2447.1,281 2455.8,285.2 2463.1,284.2 2483.6,279 2506.9,269.9 2532.5,263.6 2552.5,260.8 2565.3,269.4 2575.9,276.5 2601.8,269.4 2643.7,261.2 2643.7,425 2601.8,415 2575.9,406.1 2565.3,395.9 2552.5,383.1 2532.5,385.4 2506.9,387.8 2483.6,391.9 2463.1,396.5 2455.8,393.8 2447.1,389.4 2433.9,380.1 2430.3,377.3 2415.7,367.1 2412,364.5 2397.4,355.8 2390.1,352.1 2375.5,351.9 2357.3,345.8 2335.4,335.2 2317.1,322.4 2297.8,309.6 2284.3,312.3 2280.6,313.8 2260.9,338.2 2236.1,358.6 2214.9,360.8 2193,358.7 2174.8,370.2 2171.1,376.8 2163.8,391.2 2148.5,420 2117.7,413.3 2100.1,400.8 2080.1,391.9 2069.1,400.8 2049.1,418.7 2030.8,425.7 1999.8,425.7 1967.7,420.3 1934.8,414.2 1899.4,411.5 1870.2,405.1 1838.5,396.9 1808.2,387.2 1779,376.5 1751.6,365.9 1723.9,371.6 1669.5,372.9 1651.2,377.1 1625.7,388.4 1596.5,390.3 1554.7,386.9 1523.7,379.9 1494.5,374.7 1470.8,376.5 1438,376.8 1409.9,381.1 1381.8,386.8 1352.9,397.5 1324.8,399.6 1299.3,410 1269,421.5 1239.8,438.2 1211.7,443.4 1182.5,439.2 1155.1,435.5 1126.6,439.8 1098.9,458.3 1073,495.4 1065.7,504.5 1054.7,516.6 1031,531.3 1009.3,549 993.6,571.2 965.5,617.1 929.1,650 898.8,662.5 878,679.6 855,699 821.8,726 788.5,749.5 755.5,762.2 750.6,764 730.3,768.2 726.4,769.1 707,771.4 703.8,771.8 686,777.1 681.1,778.7 663.3,791.1 641.3,803.6 623,803.6" fill="rgb(43,43,43)" fill-opacity="0.455"/>
<polygon points="623,684.9 641.3,684.9 663.3,676.3 681.1,666.2 686,663.9 703.8,657.4 707,656.3 726.4,650.6 730.3,649.4 750.6,644.4 755.5,643 788.5,631.3 821.8,609.1 855,583.2 878,563.3 898.8,546.7 929.1,535.4 965.5,509.6 993.6,469.6 1009.3,439.1 1031,425 1054.7,410 1065.7,402 1073,391.2 1098.9,352 1126.6,332.2 1155.1,325.6 1182.5,329.3 1211.7,335.9 1239.8,331.9 1269,314 1299.3,300.1 1324.8,292.1 1352.9,288.8 1381.8,279.3 1409.9,272.4 1438,265.7 1470.8,264.3 1494.5,262.4 1523.7,266.4 1554.7,272.2 1596.5,272.2 1625.7,272.6 1651.2,267.2 1669.5,260.6 1723.9,261.7 1751.6,257.6 1779,264.3 1808.2,273.7 1838.5,285.8 1870.2,297.6 1899.4,307.5 1934.8,313.8 1967.7,322.2 1999.8,327.7 2030.8,327.7 2049.1,321.9 2069.1,305.1 2080.1,296.9 2100.1,305.1 2117.7,316.4 2148.5,320.8 2163.8,293.2 2171.1,279.9 2174.8,276.2 2193,262.3 2214.9,265.6 2236.1,261.7 2260.9,240.1 2280.6,213.1 2284.3,208.8 2297.8,206.8 2317.1,219.6 2335.4,232.4 2357.3,241.8 2375.5,250.3 2390.1,251.3 2397.4,252.5 2412,262.4 2415.7,265 2430.3,275.2 2433.9,277.8 2447.1,284.7 2455.8,288.8 2463.1,287.9 2483.6,282.8 2506.9,273.9 2532.5,267.7 2552.5,264.9 2565.3,273.7 2575.9,280.8 2601.8,274.3 2643.7,266.7 2643.7,419.5 2601.8,410.1 2575.9,401.7 2565.3,391.7 2552.5,379 2532.5,381.3 2506.9,383.9 2483.6,388.1 2463.1,392.7 2455.8,390.1 2447.1,385.8 2433.9,376.5 2430.3,373.8 2415.7,363.6 2412,361 2397.4,352.2 2390.1,348.6 2375.5,348.4 2357.3,342.2 2335.4,331.6 2317.1,318.8 2297.8,306 2284.3,308.7 2280.6,310.3 2260.9,334.8 2236.1,355.2 2214.9,357.5 2193,355.3 2174.8,367 2171.1,373.5 2163.8,387.7 2148.5,416.6 2117.7,409.9 2100.1,397.5 2080.1,388.5 2069.1,397.5 2049.1,415.4 2030.8,422.3 1999.8,422.3 1967.7,416.9 1934.8,410.7 1899.4,407.8 1870.2,401.3 1838.5,393 1808.2,383.2 1779,372.6 1751.6,362.1 1723.9,367.8 1669.5,369 1651.2,373.3 1625.7,384.4 1596.5,386.2 1554.7,382.9 1523.7,375.9 1494.5,370.8 1470.8,372.6 1438,372.9 1409.9,377.3 1381.8,383.1 1352.9,393.7 1324.8,395.9 1299.3,406.1 1269,417.8 1239.8,434.5 1211.7,439.7 1182.5,435.3 1155.1,431.7 1126.6,436 1098.9,454.6 1073,491.7 1065.7,501 1054.7,512.9 1031,527.6 1009.3,545.2 993.6,567.7 965.5,613.4 929.1,646 898.8,658.4 878,675.6 855,694.9 821.8,722 788.5,745.3 755.5,758 750.6,759.8 730.3,764.1 726.4,765 707,767.4 703.8,767.8 686,773.2 681.1,774.8 663.3,787.1 641.3,799.5 623,799.5" fill="rgb(43,43,43)" fill-opacity="1.000"/></g>
<g fill="#fff" stroke="#000" stroke-width="5.3"><circle cx="529.8" cy="1004.3" r="12.6"/><circle cx="531.5" cy="1004.3" r="12.6"/><circle cx="533.5" cy="1004.3" r="12.6"/><circle cx="535.6" cy="1004.3" r="12.6"/><circle cx="538.8" cy="1004.3" r="12.6"/><circle cx="541.5" cy="1004.3" r="12.6"/><circle cx="544" cy="1004.3" r="12.6"/><circle cx="546.9" cy="1004.3" r="12.6"/><circle cx="549.5" cy="1004.3" r="12.6"/><circle cx="552.3" cy="1004.3" r="12.6"/><circle cx="555.2" cy="1004.3" r="12.6"/><circle cx="558.2" cy="1004.3" r="12.6"/><circle cx="560.8" cy="1004.3" r="12.6"/><circle cx="565" cy="1004.3" r="12.6"/><circle cx="583.8" cy="1004.3" r="12.6"/><circle cx="602.8" cy="1004.3" r="12.6"/><circle cx="616.4" cy="1004.3" r="12.6"/><circle cx="627.7" cy="1004.3" r="12.6"/><circle cx="638.4" cy="1004.3" r="12.6"/><circle cx="650.7" cy="1004.3" r="12.6"/><circle cx="660.7" cy="1004.3" r="12.6"/><circle cx="672.7" cy="1004.3" r="12.6"/><circle cx="687.6" cy="1004.3" r="12.6"/><circle cx="698.6" cy="1004.3" r="12.6"/><circle cx="710.5" cy="1004.3" r="12.6"/><circle cx="755.7" cy="1004.3" r="12.6"/><circle cx="788.5" cy="1004.3" r="12.6"/><circle cx="821.8" cy="1004.3" r="12.6"/><circle cx="855" cy="1004.3" r="12.6"/><circle cx="898.8" cy="1004.3" r="12.6"/><circle cx="932.7" cy="1004.3" r="12.6"/><circle cx="965.5" cy="1004.3" r="12.6"/><circle cx="974.7" cy="1004.3" r="12.6"/><circle cx="993.6" cy="1004.3" r="12.6"/><circle cx="998.4" cy="1004.3" r="12.6"/><circle cx="1031" cy="1004.3" r="12.6"/><circle cx="1042" cy="1004.3" r="12.6"/><circle cx="1070.1" cy="1004.3" r="12.6"/><circle cx="1098.9" cy="1004.3" r="12.6"/><circle cx="1126.6" cy="1004.3" r="12.6"/><circle cx="1155.1" cy="1004.3" r="12.6"/><circle cx="1211.7" cy="1004.3" r="12.6"/><circle cx="1239.8" cy="1004.3" r="12.6"/><circle cx="1269" cy="1004.3" r="12.6"/><circle cx="1324.8" cy="1004.3" r="12.6"/><circle cx="1352.9" cy="1004.3" r="12.6"/><circle cx="1381.8" cy="1004.3" r="12.6"/><circle cx="1409.9" cy="1004.3" r="12.6"/><circle cx="1438" cy="1004.3" r="12.6"/><circle cx="1494.5" cy="1004.3" r="12.6"/><circle cx="1523.7" cy="1004.3" r="12.6"/><circle cx="1636.6" cy="1004.3" r="12.6"/><circle cx="1665.8" cy="1004.3" r="12.6"/><circle cx="1723.9" cy="1004.3" r="12.6"/><circle cx="1751.6" cy="1004.3" r="12.6"/><circle cx="1838.5" cy="1004.3" r="12.6"/><circle cx="1887.4" cy="1004.3" r="12.6"/><circle cx="1895.8" cy="1004.3" r="12.6"/><circle cx="1934.8" cy="1004.3" r="12.6"/><circle cx="1952.3" cy="1004.3" r="12.6"/><circle cx="1967.7" cy="1004.3" r="12.6"/><circle cx="1984.5" cy="1004.3" r="12.6"/><circle cx="1999.8" cy="1004.3" r="12.6"/><circle cx="2018.8" cy="1004.3" r="12.6"/><circle cx="2034.5" cy="1004.3" r="12.6"/><circle cx="2053.4" cy="1004.3" r="12.6"/><circle cx="2069.1" cy="1004.3" r="12.6"/><circle cx="2082.6" cy="1004.3" r="12.6"/><circle cx="2117.7" cy="1004.3" r="12.6"/><circle cx="2152.9" cy="1004.3" r="12.6"/><circle cx="2169.3" cy="1004.3" r="12.6"/><circle cx="2187.5" cy="1004.3" r="12.6"/><circle cx="2199.9" cy="1004.3" r="12.6"/><circle cx="2224" cy="1004.3" r="12.6"/><circle cx="2241.2" cy="1004.3" r="12.6"/><circle cx="2260.9" cy="1004.3" r="12.6"/><circle cx="2277.7" cy="1004.3" r="12.6"/><circle cx="2297.8" cy="1004.3" r="12.6"/><circle cx="2334.3" cy="1004.3" r="12.6"/><circle cx="2370.4" cy="1004.3" r="12.6"/><circle cx="2388.7" cy="1004.3" r="12.6"/><circle cx="2408.7" cy="1004.3" r="12.6"/><circle cx="2427" cy="1004.3" r="12.6"/><circle cx="2447.1" cy="1004.3" r="12.6"/><circle cx="2461.7" cy="1004.3" r="12.6"/><circle cx="2483.6" cy="1004.3" r="12.6"/><circle cx="2558" cy="1004.3" r="12.6"/><circle cx="2575.9" cy="1004.3" r="12.6"/></g>
<polyline points="529.8,779.2 531.2,829 532.6,724 535.6,889.2 537,744 538.8,912.5 541.8,624 544,518.6 546.9,702.3 558.2,839.1 560.8,784.1 565,712.6 583.8,774.1 602.8,661.5 616.4,779.9 627.7,630.1 638.4,609.8 650.7,716.8 660.7,757.9 672.7,787 687.6,657.6 698.6,628.2 710.5,656 755.7,643.7 788.5,659.8 821.8,690.8 855,585.7 898.8,480.2 932.7,628.7 965.5,463.8 974.7,595.9 993.6,465.6 998.4,497.4 1031,391.2 1042,456.8 1070.1,331.7 1098.9,228.4 1126.6,331.7 1126.6,226.9 1155.1,138.6 1211.7,229.8 1239.8,297 1269,282 1324.8,293.7 1352.9,356.8 1381.8,121.8 1409.9,307.9 1438,148.8 1494.5,115.6 1523.7,219.6 1636.6,319.3 1665.8,74.4 1723.9,212 1751.6,163.1 1838.5,351.7 1887.4,281.7 1895.8,280.9 1934.8,232.8 1952.3,297.7 1967.7,224.7 1984.5,216.7 1999.8,339 2018.8,257.6 2034.5,443.7 2053.4,314.9 2069.1,241.5 2082.6,112 2117.7,249.5 2152.9,419.7 2169.3,209.4 2187.5,338.7 2199.9,249.6 2224,387.6 2241.2,323 2260.9,176.6 2277.7,144.8 2297.8,96.7 2334.3,-25.3 2370.4,177.7 2388.7,201.8 2408.7,243.4 2427,121.1 2447.1,486.1 2461.7,405.1 2483.6,324.1 2558,57.2 2575.9,292.3" fill="none" stroke="#3366FF" stroke-width="5.4" stroke-linecap="round" stroke-linejoin="round" stroke-dasharray="4.5 20.5" />
<polyline points="529.8,944.2 531.2,994 532.6,889 535.6,1054.2 537,909 538.8,1077.5 541.8,789 544,683.6 546.9,867.3 558.2,1004.1 560.8,949.1 565,877.6 583.8,939.1 602.8,826.5 616.4,944.9 627.7,795.1 638.4,774.8 650.7,881.8 660.7,922.9 672.7,952 687.6,822.6 698.6,793.2 710.5,821 755.7,808.7 788.5,824.8 821.8,855.8 855,750.7 898.8,645.2 932.7,793.7 965.5,628.8 974.7,760.9 993.6,630.6 998.4,662.4 1031,556.2 1042,621.8 1070.1,496.7 1098.9,393.4 1126.6,496.7 1126.6,391.9 1155.1,303.6 1211.7,394.8 1239.8,462 1269,447 1324.8,458.7 1352.9,521.8 1381.8,286.8 1409.9,472.9 1438,313.8 1494.5,280.6 1523.7,384.6 1636.6,484.3 1665.8,239.4 1723.9,377 1751.6,328.1 1838.5,516.7 1887.4,446.7 1895.8,445.9 1934.8,397.8 1952.3,462.7 1967.7,389.7 1984.5,381.7 1999.8,504 2018.8,422.6 2034.5,608.7 2053.4,479.9 2069.1,406.5 2082.6,277 2117.7,414.5 2152.9,584.7 2169.3,374.4 2187.5,503.7 2199.9,414.6 2224,552.6 2241.2,488 2260.9,341.6 2277.7,309.8 2297.8,261.7 2334.3,139.7 2370.4,342.7 2388.7,366.8 2408.7,408.4 2427,286.1 2447.1,651.1 2461.7,570.1 2483.6,489.1 2558,222.2 2575.9,457.3" fill="none" stroke="#3366FF" stroke-width="5.4" stroke-linecap="round" stroke-linejoin="round" stroke-dasharray="4.5 20.5" />
<polyline points="529.8,855.2 531.2,905 532.6,800 535.6,965.2 537,820 538.8,988.5 541.8,700 544,594.6 546.9,778.3 558.2,915.1 560.8,860.1 565,788.6 583.8,850.1 602.8,737.5 616.4,855.9 627.7,706.1 638.4,685.8 650.7,792.8 660.7,833.9 672.7,863 687.6,733.6 698.6,704.2 710.5,732 755.7,719.7 788.5,735.8 821.8,766.8 855,661.7 898.8,556.2 932.7,704.7 965.5,539.8 974.7,671.9 993.6,541.6 998.4,573.4 1031,467.2 1042,532.8 1070.1,407.7 1098.9,304.4 1126.6,407.7 1126.6,302.9 1155.1,214.6 1211.7,305.8 1239.8,373 1269,358 1324.8,369.7 1352.9,432.8 1381.8,197.8 1409.9,383.9 1438,224.8 1494.5,191.6 1523.7,295.6 1636.6,395.3 1665.8,150.4 1723.9,288 1751.6,239.1 1838.5,427.7 1887.4,357.7 1895.8,356.9 1934.8,308.8 1952.3,373.7 1967.7,300.7 1984.5,292.7 1999.8,415 2018.8,333.6 2034.5,519.7 2053.4,390.9 2069.1,317.5 2082.6,188 2117.7,325.5 2152.9,495.7 2169.3,285.4 2187.5,414.7 2199.9,325.6 2224,463.6 2241.2,399 2260.9,252.6 2277.7,220.8 2297.8,172.7 2334.3,50.7 2370.4,253.7 2388.7,277.8 2408.7,319.4 2427,197.1 2447.1,562.1 2461.7,481.1 2483.6,400.1 2558,133.2 2575.9,368.3" fill="none" stroke="#3366FF" stroke-width="5.2" stroke-linecap="round" stroke-linejoin="round" />
<g fill="#000"><circle cx="529.8" cy="855.2" r="5.3"/><circle cx="535.6" cy="965.2" r="5.3"/><circle cx="538.8" cy="988.5" r="5.3"/><circle cx="544" cy="594.6" r="5.3"/><circle cx="546.9" cy="778.3" r="5.3"/><circle cx="558.2" cy="915.1" r="5.3"/><circle cx="560.8" cy="860.1" r="5.3"/><circle cx="565" cy="788.6" r="5.3"/><circle cx="583.8" cy="850.1" r="5.3"/><circle cx="602.8" cy="737.5" r="5.3"/><circle cx="616.4" cy="855.9" r="5.3"/><circle cx="627.7" cy="706.1" r="5.3"/><circle cx="638.4" cy="685.8" r="5.3"/><circle cx="650.7" cy="792.8" r="5.3"/><circle cx="660.7" cy="833.9" r="5.3"/><circle cx="672.7" cy="863" r="5.3"/><circle cx="687.6" cy="733.6" r="5.3"/><circle cx="698.6" cy="704.2" r="5.3"/><circle cx="710.5" cy="732" r="5.3"/><circle cx="755.7" cy="719.7" r="5.3"/><circle cx="788.5" cy="735.8" r="5.3"/><circle cx="821.8" cy="766.8" r="5.3"/><circle cx="855" cy="661.7" r="5.3"/><circle cx="898.8" cy="556.2" r="5.3"/><circle cx="932.7" cy="704.7" r="5.3"/><circle cx="965.5" cy="539.8" r="5.3"/><circle cx="974.7" cy="671.9" r="5.3"/><circle cx="993.6" cy="541.6" r="5.3"/><circle cx="998.4" cy="573.4" r="5.3"/><circle cx="1031" cy="467.2" r="5.3"/><circle cx="1042" cy="532.8" r="5.3"/><circle cx="1070.1" cy="407.7" r="5.3"/><circle cx="1098.9" cy="304.4" r="5.3"/><circle cx="1126.6" cy="407.7" r="5.3"/><circle cx="1126.6" cy="302.9" r="5.3"/><circle cx="1155.1" cy="214.6" r="5.3"/><circle cx="1211.7" cy="305.8" r="5.3"/><circle cx="1239.8" cy="373" r="5.3"/><circle cx="1269" cy="358" r="5.3"/><circle cx="1324.8" cy="369.7" r="5.3"/><circle cx="1352.9" cy="432.8" r="5.3"/><circle cx="1381.8" cy="197.8" r="5.3"/><circle cx="1409.9" cy="383.9" r="5.3"/><circle cx="1438" cy="224.8" r="5.3"/><circle cx="1494.5" cy="191.6" r="5.3"/><circle cx="1523.7" cy="295.6" r="5.3"/><circle cx="1636.6" cy="395.3" r="5.3"/><circle cx="1665.8" cy="150.4" r="5.3"/><circle cx="1723.9" cy="288" r="5.3"/><circle cx="1751.6" cy="239.1" r="5.3"/><circle cx="1838.5" cy="427.7" r="5.3"/><circle cx="1887.4" cy="357.7" r="5.3"/><circle cx="1895.8" cy="356.9" r="5.3"/><circle cx="1934.8" cy="308.8" r="5.3"/><circle cx="1952.3" cy="373.7" r="5.3"/><circle cx="1967.7" cy="300.7" r="5.3"/><circle cx="1984.5" cy="292.7" r="5.3"/><circle cx="1999.8" cy="415" r="5.3"/><circle cx="2018.8" cy="333.6" r="5.3"/><circle cx="2034.5" cy="519.7" r="5.3"/><circle cx="2053.4" cy="390.9" r="5.3"/><circle cx="2069.1" cy="317.5" r="5.3"/><circle cx="2082.6" cy="188" r="5.3"/><circle cx="2117.7" cy="325.5" r="5.3"/><circle cx="2152.9" cy="495.7" r="5.3"/><circle cx="2169.3" cy="285.4" r="5.3"/><circle cx="2187.5" cy="414.7" r="5.3"/><circle cx="2199.9" cy="325.6" r="5.3"/><circle cx="2224" cy="463.6" r="5.3"/><circle cx="2241.2" cy="399" r="5.3"/><circle cx="2260.9" cy="252.6" r="5.3"/><circle cx="2277.7" cy="220.8" r="5.3"/><circle cx="2297.8" cy="172.7" r="5.3"/><circle cx="2334.3" cy="50.7" r="5.3"/><circle cx="2370.4" cy="253.7" r="5.3"/><circle cx="2388.7" cy="277.8" r="5.3"/><circle cx="2408.7" cy="319.4" r="5.3"/><circle cx="2427" cy="197.1" r="5.3"/><circle cx="2447.1" cy="562.1" r="5.3"/><circle cx="2461.7" cy="481.1" r="5.3"/><circle cx="2483.6" cy="400.1" r="5.3"/><circle cx="2558" cy="133.2" r="5.3"/><circle cx="2575.9" cy="368.3" r="5.3"/></g>
<polyline points="528.1,705.2 536.3,758.1 542.4,686.2 549.1,724.2 553.2,695.7 560.7,728.3 566.1,687.6 572.2,699.8 577.6,665.9 583.7,728.3 590.5,667.3 595.9,671.3 600.6,644.2 606.7,703.9 613.5,660.5 618.2,674.1 623,664 641.3,650.5 663.3,643.1 686,631.1 707,623 730.3,614.9 755.5,608.5 788.5,597.1 821.8,575.2 855,549.6 878,529.6 898.8,513.1 929.1,502.2 965.5,478.5 993.6,440.1 1009.3,407.3 1031,394.2 1065.7,372.3 1098.9,321.2 1126.6,301.1 1155.1,293.8 1182.5,297.4 1211.7,304.7 1239.8,301.1 1269,282.8 1299.3,268.2 1324.8,260.9 1352.9,257.3 1381.8,248.2 1409.9,240.9 1438,233.6 1470.8,231.8 1494.5,229.9 1523.7,233.6 1554.7,239.1 1596.5,238 1625.7,239.1 1651.2,235.4 1669.5,228.1 1723.9,229.9 1751.6,226.3 1779,231.8 1808.2,240.9 1838.5,253.6 1870.2,266.4 1899.4,277.4 1934.8,284.7 1967.7,293.8 1999.8,299.3 2030.8,299.3 2049.1,293.8 2069.1,277.4 2080.1,269.3 2100.1,277.4 2117.7,288.3 2148.5,292 2171.1,251.9 2193,234.3 2214.9,238 2236.1,233.6 2260.9,211.7 2284.3,178.9 2297.8,177 2317.1,189.8 2335.4,202.6 2357.3,211.7 2375.5,220.8 2397.4,222.7 2415.7,235.4 2433.9,248.2 2455.8,258.4 2483.6,251.1 2506.9,240.9 2532.5,233.6 2552.5,230.7 2575.9,244.6 2601.8,233.6 2643.8,220.8" fill="none" stroke="#FF0000" stroke-width="5.4" stroke-linecap="round" stroke-linejoin="round" stroke-dasharray="5 18.5" />
<polyline points="528.1,935.2 536.3,988.1 542.4,916.2 549.1,954.2 553.2,925.7 560.7,958.3 566.1,917.6 572.2,929.8 577.6,895.9 583.7,958.3 590.5,897.3 595.9,901.3 600.6,874.2 606.7,933.9 613.5,890.5 618.2,904.1 623,866 641.3,833.9 663.3,820.3 681.1,807.4 703.8,800.9 726.4,799.3 750.6,794.4 788.5,779.6 821.8,755.8 855,728.5 898.8,692 929.1,679.2 965.5,644.5 993.6,597.1 1009.3,577 1031,558.4 1054.7,543.8 1073,521.9 1098.9,485.4 1126.6,467.2 1155.1,463.5 1182.5,467.2 1211.7,470.8 1239.8,465.3 1269,448.9 1299.3,438 1324.8,427 1352.9,425.2 1381.8,414.2 1409.9,408.8 1438,405.1 1470.8,405.1 1494.5,403.3 1523.7,408.8 1554.7,416.1 1596.5,420.4 1625.7,417.9 1651.2,405.1 1669.5,401.5 1723.9,399.6 1751.6,393.4 1779,405.1 1808.2,416.1 1838.5,425.2 1870.2,432.5 1899.4,438 1934.8,439.8 1967.7,445.3 1999.8,450.7 2030.8,450.7 2049.1,443.4 2069.1,425.2 2080.1,416.1 2100.1,425.2 2117.7,438 2148.5,445.3 2163.8,416.1 2174.8,394.2 2193,383.3 2214.9,385.1 2236.1,383.3 2260.9,363.2 2280.6,339.5 2297.8,335.8 2317.1,348.6 2335.4,361.4 2357.3,372.3 2375.5,377.8 2390.1,377.8 2412,390.6 2430.3,403.3 2447.1,416.1 2463.1,424.1 2483.6,419.8 2506.9,416.8 2532.5,415.4 2552.5,413.2 2565.3,427.1 2575.9,438 2601.8,450.8 2643.8,465.4" fill="none" stroke="#FF0000" stroke-width="5.4" stroke-linecap="round" stroke-linejoin="round" stroke-dasharray="5 18.5" />
<polyline points="528.1,820.2 536.3,873.1 542.4,801.2 549.1,839.2 553.2,810.7 560.7,843.3 566.1,802.6 572.2,814.8 577.6,780.9 583.7,843.3 590.5,782.3 595.9,786.3 600.6,759.2 606.7,818.9 613.5,775.5 618.2,789.1 623,753.8 635.2,743 655.5,733.5 672.7,724.9 687.6,715.2 710.5,708.7 732.9,705.5 760,697.4 788.5,691.2 821.8,666.4 855,644.5 898.8,598.9 929.1,589.8 965.5,558.8 993.6,520.4 1005.7,494.9 1031,474.5 1065.7,452.6 1098.5,405.1 1126.6,382.5 1155.1,377.7 1182.5,381.4 1211.7,386.9 1239.8,381.4 1269,365 1299.3,354 1324.8,343.1 1352.9,341.2 1381.8,328.5 1409.9,324.8 1438,319.3 1470.8,319.3 1494.5,316.8 1523.7,321.2 1554.7,327.7 1614.7,328.5 1636.6,325.9 1669.5,313.9 1723.9,316.1 1751.6,310.9 1779,319.3 1808.2,330.3 1838.5,341.2 1887.4,354.7 1934.8,363.1 1967.7,368.6 1999.8,374.8 2030.8,374.8 2049.1,370.4 2069.1,350.4 2080.1,342.3 2100.1,352.2 2117.7,363.1 2148.5,370.5 2171.1,324.9 2193,309.5 2214.9,311 2236.1,311 2260.9,288.4 2284.3,259.2 2297.8,259.2 2317.1,270.1 2335.4,282.9 2357.3,292 2375.5,300 2390.1,299.3 2408.7,312.1 2423,319.4 2447.1,339.5 2464.9,341.3 2483.6,335.8 2506.9,330.3 2532.5,325.6 2552.5,321.2 2575.9,343.1 2643.8,343.1" fill="none" stroke="#FF0000" stroke-width="6.5" stroke-linecap="round" stroke-linejoin="round" />
</g>
<clipPath id="cb"><rect x="445.2" y="1281.1" width="2279.9" height="1019.8000000000002"/></clipPath>
<g clip-path="url(#cb)">
<g filter="url(#vb2)"><polygon points="528.8,1444.2 553,1452.2 578,1467.2 585,1475.2 596,1482.6 605,1494.3 614,1534.6 623,1554.2 623,2055.8 614,2095.4 605,2153.7 596,2097.4 585,2056.8 578,2012.8 553,1999.8 528.8,1999.8" fill="rgb(43,43,43)" fill-opacity="0.006"/>
<polygon points="528.8,1463.2 553,1471.2 578,1486.2 585,1494.2 596,1503.3 605,1518.6 614,1555.3 623,1573.2 623,2036.8 614,2074.7 605,2129.4 596,2076.7 585,2037.8 578,1993.8 553,1980.8 528.8,1980.8" fill="rgb(43,43,43)" fill-opacity="0.014"/>
<polygon points="528.8,1482.3 553,1490.3 578,1505.3 585,1513.3 596,1524.1 605,1542.8 614,1576.1 623,1592.3 623,2017.7 614,2053.9 605,2105.2 596,2055.9 585,2018.7 578,1974.7 553,1961.7 528.8,1961.7" fill="rgb(43,43,43)" fill-opacity="0.020"/>
<polygon points="528.8,1501.3 553,1509.3 578,1524.3 585,1532.3 596,1544.9 605,1567 614,1596.9 623,1611.3 623,1998.7 614,2033.1 605,2081 596,2035.1 585,1999.7 578,1955.7 553,1942.7 528.8,1942.7" fill="rgb(43,43,43)" fill-opacity="0.036"/>
<polygon points="528.8,1518.4 553,1526.4 578,1541.4 585,1549.4 596,1563.5 605,1588.8 614,1615.5 623,1628.4 623,1981.6 614,2014.5 605,2059.2 596,2016.5 585,1982.6 578,1938.6 553,1925.6 528.8,1925.6" fill="rgb(43,43,43)" fill-opacity="0.059"/>
<polygon points="528.8,1533.6 553,1541.6 578,1556.6 585,1564.6 596,1580.2 605,1608.2 614,1632.2 623,1643.6 623,1966.4 614,1997.8 605,2039.8 596,1999.8 585,1967.4 578,1923.4 553,1910.4 528.8,1910.4" fill="rgb(43,43,43)" fill-opacity="0.080"/>
<polygon points="528.8,1547 553,1555 578,1570 585,1578 596,1594.7 605,1625.1 614,1646.7 623,1657 623,1953 614,1983.3 605,2022.9 596,1985.3 585,1954 578,1910 553,1897 528.8,1897" fill="rgb(43,43,43)" fill-opacity="0.100"/>
<polygon points="528.8,1558.4 553,1566.4 578,1581.4 585,1589.4 596,1607.1 605,1639.7 614,1659.1 623,1668.4 623,1941.6 614,1970.9 605,2008.3 596,1972.9 585,1942.6 578,1898.6 553,1885.6 528.8,1885.6" fill="rgb(43,43,43)" fill-opacity="0.125"/>
<polygon points="528.8,1567.9 553,1575.9 578,1590.9 585,1598.9 596,1617.5 605,1651.8 614,1669.5 623,1677.9 623,1932.1 614,1960.5 605,1996.2 596,1962.5 585,1933.1 578,1889.1 553,1876.1 528.8,1876.1" fill="rgb(43,43,43)" fill-opacity="0.159"/>
<polygon points="528.8,1576.5 553,1584.5 578,1599.5 585,1607.5 596,1626.9 605,1662.7 614,1678.9 623,1686.5 623,1923.5 614,1951.1 605,1985.3 596,1953.1 585,1924.5 578,1880.5 553,1867.5 528.8,1867.5" fill="rgb(43,43,43)" fill-opacity="0.151"/>
<polygon points="528.8,1584.1 553,1592.1 578,1607.1 585,1615.1 596,1635.2 605,1672.4 614,1687.2 623,1694.1 623,1915.9 614,1942.8 605,1975.6 596,1944.8 585,1916.9 578,1872.9 553,1859.9 528.8,1859.9" fill="rgb(43,43,43)" fill-opacity="0.156"/>
<polygon points="528.8,1590.7 553,1598.7 578,1613.7 585,1621.7 596,1642.4 605,1680.8 614,1694.4 623,1700.7 623,1909.3 614,1935.6 605,1967.2 596,1937.6 585,1910.3 578,1866.3 553,1853.3 528.8,1853.3" fill="rgb(43,43,43)" fill-opacity="0.211"/>
<polygon points="528.8,1596.4 553,1604.4 578,1619.4 585,1627.4 596,1648.7 605,1688.1 614,1700.7 623,1706.4 623,1903.6 614,1929.3 605,1959.9 596,1931.3 585,1904.6 578,1860.6 553,1847.6 528.8,1847.6" fill="rgb(43,43,43)" fill-opacity="0.267"/>
<polygon points="528.8,1600.7 553,1608.7 578,1623.7 585,1631.7 596,1653.3 605,1693.6 614,1705.3 623,1710.7 623,1899.3 614,1924.7 605,1954.4 596,1926.7 585,1900.3 578,1856.3 553,1843.3 528.8,1843.3" fill="rgb(43,43,43)" fill-opacity="0.455"/>
<polygon points="528.8,1605 553,1613 578,1628 585,1636 596,1658 605,1699 614,1710 623,1715 623,1895 614,1920 605,1949 596,1922 585,1896 578,1852 553,1839 528.8,1839" fill="rgb(43,43,43)" fill-opacity="1.000"/></g>
<g filter="url(#vb)"><polygon points="623,1531.5 629.3,1531.5 638.7,1539.1 643.4,1538.4 660.6,1530.8 663.7,1531.4 684.1,1526.5 685.6,1528 704.5,1536.1 727.6,1535.5 760,1534.2 788.9,1548.6 821.8,1537.7 855,1539.3 892.6,1531.5 914.5,1544.9 932.7,1556.3 965.5,1572 987.4,1581.6 993.6,1589 1005.7,1593.3 1021.9,1603 1040.1,1630.3 1043.8,1633.9 1054.7,1646.1 1070.1,1654.6 1076.6,1660.5 1098.5,1672 1109.5,1674.5 1126.6,1683.4 1138.7,1688.3 1155.1,1699.1 1182.5,1722.2 1204.4,1737.6 1215.3,1748 1219,1748.4 1237.2,1755.3 1248.2,1753.4 1262.8,1751 1277.4,1741 1288.3,1734.4 1299.3,1734.1 1310.2,1733.1 1323,1735.9 1328.5,1736.1 1343.1,1744.5 1352.9,1748.6 1365,1747.9 1381.8,1747.8 1405.1,1749 1438,1756.4 1474.5,1766.6 1510.9,1766.8 1551.1,1772.2 1596.5,1765.5 1633,1763.1 1665.8,1747.9 1695,1742.4 1720.6,1744.7 1760.7,1721.6 1797.2,1708.8 1838.5,1710.6 1877.5,1708.2 1906.7,1705.7 1934.8,1709.2 1967.7,1705.6 1984.5,1700.7 2012.6,1670.3 2034.5,1644.8 2053.4,1623.5 2070.9,1602.2 2082.6,1591.3 2100.1,1586.9 2117.7,1579.1 2145.6,1565.2 2156.5,1544.5 2171.1,1494.7 2185.7,1471.5 2189.4,1464 2204,1460.6 2229.5,1460.8 2236.1,1461.6 2251.4,1451.8 2260.9,1448.3 2273.3,1434.7 2280.6,1424.5 2291.6,1427.9 2297.8,1426 2317.1,1441.2 2335.4,1450.9 2353.6,1451.9 2357.3,1449 2375.5,1442.4 2391.9,1420.6 2412,1401.7 2430.3,1392.1 2455.8,1389.1 2483.6,1392.7 2506.9,1393.3 2532.5,1395.2 2552.5,1397.7 2570.8,1412.9 2594.5,1393 2643.7,1356.9 2643.7,1952.5 2594.5,1912.7 2570.8,1881.9 2552.5,1862.4 2532.5,1853.2 2506.9,1841.2 2483.6,1836.3 2455.8,1842.9 2430.3,1844.2 2412,1839.4 2391.9,1830.4 2375.5,1839.6 2357.3,1849.7 2353.6,1847.7 2335.4,1843.8 2317.1,1829.9 2297.8,1816.6 2291.6,1809.6 2280.6,1814 2273.3,1812 2260.9,1818.2 2251.4,1825.6 2236.1,1827.1 2229.5,1829.7 2204,1832.4 2189.4,1849.3 2185.7,1851 2171.1,1874.9 2156.5,1916.3 2145.6,1941.2 2117.7,1963.6 2100.1,1967.1 2082.6,1971.5 2070.9,1982.4 2053.4,1999.5 2034.5,2016.5 2012.6,2042.1 1984.5,2070.8 1967.7,2081.6 1934.8,2091.9 1906.7,2104.5 1877.5,2113.7 1838.5,2120.4 1797.2,2138 1760.7,2144.1 1720.6,2160.4 1695,2181.7 1665.8,2199.9 1633,2204.1 1596.5,2213.3 1551.1,2217.5 1510.9,2214.6 1474.5,2205.9 1438,2195.7 1405.1,2175.7 1381.8,2163.5 1365,2155.8 1352.9,2148.5 1343.1,2144.4 1328.5,2144 1323,2142.7 1310.2,2145.2 1299.3,2146 1288.3,2148.4 1277.4,2148.3 1262.8,2145.1 1248.2,2144.9 1237.2,2144.6 1219,2147.9 1215.3,2146.2 1204.4,2144.6 1182.5,2127.7 1155.1,2108.9 1138.7,2091.1 1126.6,2076.8 1109.5,2061.7 1098.5,2050.8 1076.6,2045.6 1070.1,2045 1054.7,2030.5 1043.8,2022.6 1040.1,2018.9 1021.9,2004.3 1005.7,1990.4 993.6,1971.8 987.4,1975 965.5,1980.1 932.7,1993.9 914.5,1996.9 892.6,1996.1 855,1998.1 821.8,2002.3 788.9,2000.6 760,2003.1 727.6,1999.9 704.5,1991.6 685.6,1979.2 684.1,1980 663.7,1982.2 660.6,1985.8 643.4,2001.2 638.7,2009 629.3,2028 623,2028" fill="rgb(43,43,43)" fill-opacity="0.006"/>
<polygon points="623,1553 629.3,1553 638.7,1559.4 643.4,1558.4 660.6,1550.5 663.7,1550.8 684.1,1546.1 685.6,1547.5 704.5,1555.8 727.6,1555.6 760,1554.5 788.9,1568.1 821.8,1557.7 855,1559.2 892.6,1551.5 914.5,1564.4 932.7,1575.2 965.5,1589.6 987.4,1598.6 993.6,1605.5 1005.7,1610.5 1021.9,1620.3 1040.1,1647.1 1043.8,1650.7 1054.7,1662.7 1070.1,1671.5 1076.6,1677.1 1098.5,1688.4 1109.5,1691.2 1126.6,1700.4 1138.7,1705.7 1155.1,1716.8 1182.5,1739.7 1204.4,1755.2 1215.3,1765.2 1219,1765.7 1237.2,1772.1 1248.2,1770.3 1262.8,1768 1277.4,1758.6 1288.3,1752.3 1299.3,1751.9 1310.2,1750.9 1323,1753.5 1328.5,1753.8 1343.1,1761.8 1352.9,1765.9 1365,1765.5 1381.8,1765.7 1405.1,1767.5 1438,1775.4 1474.5,1785.6 1510.9,1786.1 1551.1,1791.5 1596.5,1784.9 1633,1782.1 1665.8,1767.4 1695,1761.4 1720.6,1762.7 1760.7,1739.9 1797.2,1727.3 1838.5,1728.3 1877.5,1725.7 1906.7,1722.9 1934.8,1725.7 1967.7,1721.9 1984.5,1716.7 2012.6,1686.4 2034.5,1660.8 2053.4,1639.7 2070.9,1618.7 2082.6,1607.7 2100.1,1603.3 2117.7,1595.7 2145.6,1581.5 2156.5,1560.6 2171.1,1511.1 2185.7,1487.9 2189.4,1480.7 2204,1476.6 2229.5,1476.7 2236.1,1477.4 2251.4,1468 2260.9,1464.3 2273.3,1451 2280.6,1441.3 2291.6,1444.4 2297.8,1442.9 2317.1,1457.9 2335.4,1467.9 2353.6,1469 2357.3,1466.3 2375.5,1459.6 2391.9,1438.3 2412,1420.6 2430.3,1411.7 2455.8,1408.7 2483.6,1411.9 2506.9,1412.7 2532.5,1415 2552.5,1417.7 2570.8,1433.1 2594.5,1415.5 2643.7,1382.6 2643.7,1926.7 2594.5,1890.2 2570.8,1861.6 2552.5,1842.3 2532.5,1833.4 2506.9,1821.8 2483.6,1817.2 2455.8,1823.3 2430.3,1824.7 2412,1820.5 2391.9,1812.7 2375.5,1822.4 2357.3,1832.4 2353.6,1830.6 2335.4,1826.9 2317.1,1813.1 2297.8,1799.7 2291.6,1793.2 2280.6,1797.2 2273.3,1795.7 2260.9,1802.2 2251.4,1809.5 2236.1,1811.3 2229.5,1813.8 2204,1816.3 2189.4,1832.7 2185.7,1834.6 2171.1,1858.5 2156.5,1900.3 2145.6,1925 2117.7,1947 2100.1,1950.7 2082.6,1955.1 2070.9,1966 2053.4,1983.2 2034.5,2000.5 2012.6,2026 1984.5,2054.8 1967.7,2065.4 1934.8,2075.4 1906.7,2087.3 1877.5,2096.2 1838.5,2102.7 1797.2,2119.4 1760.7,2125.8 1720.6,2142.4 1695,2162.7 1665.8,2180.4 1633,2185 1596.5,2194 1551.1,2198.2 1510.9,2195.2 1474.5,2187 1438,2176.8 1405.1,2157.3 1381.8,2145.5 1365,2138.2 1352.9,2131.2 1343.1,2127.1 1328.5,2126.4 1323,2125.1 1310.2,2127.4 1299.3,2128.2 1288.3,2130.5 1277.4,2130.7 1262.8,2128.1 1248.2,2128 1237.2,2127.7 1219,2130.7 1215.3,2129 1204.4,2127 1182.5,2110.2 1155.1,2091.2 1138.7,2073.7 1126.6,2059.8 1109.5,2045 1098.5,2034.4 1076.6,2028.9 1070.1,2028.1 1054.7,2013.9 1043.8,2005.8 1040.1,2002.1 1021.9,1986.9 1005.7,1973.3 993.6,1955.3 987.4,1958.1 965.5,1962.4 932.7,1975 914.5,1977.4 892.6,1976.1 855,1978.3 821.8,1982.3 788.9,1981 760,1982.9 727.6,1979.9 704.5,1971.9 685.6,1959.7 684.1,1960.4 663.7,1962.7 660.6,1966.1 643.4,1981.3 638.7,1988.7 629.3,2006.6 623,2006.6" fill="rgb(43,43,43)" fill-opacity="0.014"/>
<polygon points="623,1574.4 629.3,1574.4 638.7,1579.7 643.4,1578.4 660.6,1570.1 663.7,1570.3 684.1,1565.7 685.6,1566.9 704.5,1575.5 727.6,1575.6 760,1574.8 788.9,1587.6 821.8,1577.8 855,1579 892.6,1571.6 914.5,1584 932.7,1594.1 965.5,1607.2 987.4,1615.6 993.6,1622 1005.7,1627.7 1021.9,1637.6 1040.1,1663.9 1043.8,1667.5 1054.7,1679.3 1070.1,1688.3 1076.6,1693.8 1098.5,1704.7 1109.5,1707.9 1126.6,1717.4 1138.7,1723.1 1155.1,1734.5 1182.5,1757.2 1204.4,1772.8 1215.3,1782.4 1219,1782.9 1237.2,1788.9 1248.2,1787.2 1262.8,1785 1277.4,1776.2 1288.3,1770.2 1299.3,1769.7 1310.2,1768.7 1323,1771 1328.5,1771.4 1343.1,1779 1352.9,1783.2 1365,1783.1 1381.8,1783.7 1405.1,1785.9 1438,1794.3 1474.5,1804.6 1510.9,1805.4 1551.1,1810.7 1596.5,1804.2 1633,1801.2 1665.8,1786.9 1695,1780.3 1720.6,1780.6 1760.7,1758.1 1797.2,1745.8 1838.5,1746 1877.5,1743.2 1906.7,1740.2 1934.8,1742.2 1967.7,1738.1 1984.5,1732.7 2012.6,1702.4 2034.5,1676.9 2053.4,1656 2070.9,1635.1 2082.6,1624.1 2100.1,1619.8 2117.7,1612.3 2145.6,1597.7 2156.5,1576.6 2171.1,1527.5 2185.7,1504.3 2189.4,1497.3 2204,1492.7 2229.5,1492.7 2236.1,1493.2 2251.4,1484.1 2260.9,1480.3 2273.3,1467.3 2280.6,1458.1 2291.6,1460.8 2297.8,1459.8 2317.1,1474.7 2335.4,1484.9 2353.6,1486.1 2357.3,1483.6 2375.5,1476.7 2391.9,1456 2412,1439.5 2430.3,1431.2 2455.8,1428.3 2483.6,1431 2506.9,1432 2532.5,1434.8 2552.5,1437.8 2570.8,1453.4 2594.5,1437.9 2643.7,1408.3 2643.7,1901 2594.5,1867.8 2570.8,1841.3 2552.5,1822.3 2532.5,1813.6 2506.9,1802.5 2483.6,1798 2455.8,1803.7 2430.3,1805.2 2412,1801.6 2391.9,1795 2375.5,1805.3 2357.3,1815.1 2353.6,1813.5 2335.4,1809.9 2317.1,1796.3 2297.8,1782.8 2291.6,1776.7 2280.6,1780.4 2273.3,1779.4 2260.9,1786.2 2251.4,1793.3 2236.1,1795.5 2229.5,1797.8 2204,1800.2 2189.4,1816.1 2185.7,1818.2 2171.1,1842.1 2156.5,1884.2 2145.6,1908.8 2117.7,1930.4 2100.1,1934.3 2082.6,1938.6 2070.9,1949.6 2053.4,1967 2034.5,1984.4 2012.6,2010 1984.5,2038.8 1967.7,2049.1 1934.8,2058.8 1906.7,2070.1 1877.5,2078.7 1838.5,2085 1797.2,2100.9 1760.7,2107.6 1720.6,2124.5 1695,2143.8 1665.8,2160.9 1633,2166 1596.5,2174.6 1551.1,2179 1510.9,2175.9 1474.5,2168 1438,2157.8 1405.1,2138.8 1381.8,2127.6 1365,2120.5 1352.9,2113.9 1343.1,2109.8 1328.5,2108.8 1323,2107.5 1310.2,2109.6 1299.3,2110.4 1288.3,2112.6 1277.4,2113.1 1262.8,2111.1 1248.2,2111.1 1237.2,2110.9 1219,2113.4 1215.3,2111.8 1204.4,2109.4 1182.5,2092.7 1155.1,2073.5 1138.7,2056.3 1126.6,2042.9 1109.5,2028.3 1098.5,2018.1 1076.6,2012.3 1070.1,2011.2 1054.7,1997.3 1043.8,1989 1040.1,1985.3 1021.9,1969.6 1005.7,1956.1 993.6,1938.7 987.4,1941.1 965.5,1944.8 932.7,1956.1 914.5,1957.9 892.6,1956 855,1958.5 821.8,1962.2 788.9,1961.5 760,1962.6 727.6,1959.8 704.5,1952.3 685.6,1940.2 684.1,1940.9 663.7,1943.2 660.6,1946.5 643.4,1961.3 638.7,1968.4 629.3,1985.1 623,1985.1" fill="rgb(43,43,43)" fill-opacity="0.020"/>
<polygon points="623,1595.9 629.3,1595.9 638.7,1600 643.4,1598.4 660.6,1589.8 663.7,1589.8 684.1,1585.3 685.6,1586.4 704.5,1595.2 727.6,1595.7 760,1595 788.9,1607.1 821.8,1597.9 855,1598.8 892.6,1591.7 914.5,1603.5 932.7,1613 965.5,1624.9 987.4,1632.6 993.6,1638.6 1005.7,1644.8 1021.9,1655 1040.1,1680.6 1043.8,1684.3 1054.7,1695.9 1070.1,1705.2 1076.6,1710.4 1098.5,1721.1 1109.5,1724.6 1126.6,1734.4 1138.7,1740.5 1155.1,1752.2 1182.5,1774.7 1204.4,1790.3 1215.3,1799.6 1219,1800.2 1237.2,1805.7 1248.2,1804.1 1262.8,1802.1 1277.4,1793.8 1288.3,1788 1299.3,1787.5 1310.2,1786.5 1323,1788.6 1328.5,1789 1343.1,1796.3 1352.9,1800.4 1365,1800.7 1381.8,1801.6 1405.1,1804.3 1438,1813.3 1474.5,1823.5 1510.9,1824.8 1551.1,1829.9 1596.5,1823.5 1633,1820.2 1665.8,1806.5 1695,1799.3 1720.6,1798.6 1760.7,1776.4 1797.2,1764.4 1838.5,1763.7 1877.5,1760.7 1906.7,1757.4 1934.8,1758.8 1967.7,1754.3 1984.5,1748.7 2012.6,1718.5 2034.5,1693 2053.4,1672.2 2070.9,1651.5 2082.6,1640.6 2100.1,1636.2 2117.7,1629 2145.6,1613.9 2156.5,1592.7 2171.1,1543.9 2185.7,1520.7 2189.4,1514 2204,1508.7 2229.5,1508.6 2236.1,1509 2251.4,1500.3 2260.9,1496.3 2273.3,1483.6 2280.6,1475 2291.6,1477.3 2297.8,1476.7 2317.1,1491.5 2335.4,1501.8 2353.6,1503.2 2357.3,1500.9 2375.5,1493.9 2391.9,1473.7 2412,1458.4 2430.3,1450.7 2455.8,1447.9 2483.6,1450.2 2506.9,1451.4 2532.5,1454.5 2552.5,1457.9 2570.8,1473.7 2594.5,1460.4 2643.7,1434.1 2643.7,1875.3 2594.5,1845.3 2570.8,1821.1 2552.5,1802.2 2532.5,1793.8 2506.9,1783.2 2483.6,1778.8 2455.8,1784.1 2430.3,1785.6 2412,1782.7 2391.9,1777.3 2375.5,1788.1 2357.3,1797.8 2353.6,1796.4 2335.4,1792.9 2317.1,1779.5 2297.8,1766 2291.6,1760.2 2280.6,1763.6 2273.3,1763.1 2260.9,1770.3 2251.4,1777.2 2236.1,1779.7 2229.5,1781.9 2204,1784.2 2189.4,1799.4 2185.7,1801.8 2171.1,1825.6 2156.5,1868.1 2145.6,1892.5 2117.7,1913.7 2100.1,1917.8 2082.6,1922.2 2070.9,1933.2 2053.4,1950.8 2034.5,1968.4 2012.6,1993.9 1984.5,2022.8 1967.7,2032.9 1934.8,2042.3 1906.7,2052.8 1877.5,2061.2 1838.5,2067.3 1797.2,2082.3 1760.7,2089.3 1720.6,2106.5 1695,2124.8 1665.8,2141.3 1633,2146.9 1596.5,2155.3 1551.1,2159.8 1510.9,2156.5 1474.5,2149 1438,2138.8 1405.1,2120.4 1381.8,2109.6 1365,2102.9 1352.9,2096.7 1343.1,2092.6 1328.5,2091.1 1323,2090 1310.2,2091.8 1299.3,2092.6 1288.3,2094.7 1277.4,2095.5 1262.8,2094 1248.2,2094.2 1237.2,2094.1 1219,2096.1 1215.3,2094.6 1204.4,2091.8 1182.5,2075.2 1155.1,2055.8 1138.7,2038.9 1126.6,2025.9 1109.5,2011.5 1098.5,2001.7 1076.6,1995.7 1070.1,1994.4 1054.7,1980.7 1043.8,1972.2 1040.1,1968.6 1021.9,1952.3 1005.7,1939 993.6,1922.2 987.4,1924.1 965.5,1927.2 932.7,1937.2 914.5,1938.3 892.6,1935.9 855,1938.7 821.8,1942.1 788.9,1942 760,1942.4 727.6,1939.8 704.5,1932.6 685.6,1920.7 684.1,1921.3 663.7,1923.8 660.6,1926.8 643.4,1941.3 638.7,1948.1 629.3,1963.7 623,1963.7" fill="rgb(43,43,43)" fill-opacity="0.036"/>
<polygon points="623,1615.2 629.3,1615.2 638.7,1618.3 643.4,1616.4 660.6,1607.5 663.7,1607.3 684.1,1602.9 685.6,1604 704.5,1612.9 727.6,1613.8 760,1613.2 788.9,1624.7 821.8,1615.9 855,1616.6 892.6,1609.7 914.5,1621.1 932.7,1630 965.5,1640.7 987.4,1647.9 993.6,1653.5 1005.7,1660.2 1021.9,1670.6 1040.1,1695.7 1043.8,1699.4 1054.7,1710.8 1070.1,1720.4 1076.6,1725.4 1098.5,1735.8 1109.5,1739.7 1126.6,1749.7 1138.7,1756.2 1155.1,1768.1 1182.5,1790.5 1204.4,1806.2 1215.3,1815.1 1219,1815.7 1237.2,1820.9 1248.2,1819.3 1262.8,1817.4 1277.4,1809.6 1288.3,1804.1 1299.3,1803.5 1310.2,1802.5 1323,1804.4 1328.5,1804.8 1343.1,1811.9 1352.9,1816 1365,1816.6 1381.8,1817.8 1405.1,1820.9 1438,1830.4 1474.5,1840.6 1510.9,1842.2 1551.1,1847.2 1596.5,1841 1633,1837.4 1665.8,1824 1695,1816.4 1720.6,1814.7 1760.7,1792.8 1797.2,1781.1 1838.5,1779.7 1877.5,1776.5 1906.7,1772.9 1934.8,1773.7 1967.7,1769 1984.5,1763.1 2012.6,1733 2034.5,1707.4 2053.4,1686.8 2070.9,1666.3 2082.6,1655.3 2100.1,1651 2117.7,1643.9 2145.6,1628.6 2156.5,1607.1 2171.1,1558.7 2185.7,1535.5 2189.4,1528.9 2204,1523.2 2229.5,1522.9 2236.1,1523.2 2251.4,1514.8 2260.9,1510.6 2273.3,1498.3 2280.6,1490.1 2291.6,1492.2 2297.8,1491.8 2317.1,1506.6 2335.4,1517.1 2353.6,1518.6 2357.3,1516.5 2375.5,1509.3 2391.9,1489.6 2412,1475.4 2430.3,1468.3 2455.8,1465.5 2483.6,1467.4 2506.9,1468.8 2532.5,1472.4 2552.5,1476 2570.8,1491.9 2594.5,1480.6 2643.7,1457.2 2643.7,1852.1 2594.5,1825.1 2570.8,1802.9 2552.5,1784.1 2532.5,1776 2506.9,1765.7 2483.6,1761.6 2455.8,1766.4 2430.3,1768.1 2412,1765.7 2391.9,1761.3 2375.5,1772.7 2357.3,1782.2 2353.6,1781 2335.4,1777.6 2317.1,1764.4 2297.8,1750.8 2291.6,1745.3 2280.6,1748.4 2273.3,1748.5 2260.9,1755.9 2251.4,1762.7 2236.1,1765.5 2229.5,1767.6 2204,1769.7 2189.4,1784.4 2185.7,1787 2171.1,1810.9 2156.5,1853.7 2145.6,1877.9 2117.7,1898.8 2100.1,1903.1 2082.6,1907.4 2070.9,1918.4 2053.4,1936.1 2034.5,1953.9 2012.6,1979.5 1984.5,2008.5 1967.7,2018.3 1934.8,2027.4 1906.7,2037.3 1877.5,2045.4 1838.5,2051.4 1797.2,2065.7 1760.7,2072.9 1720.6,2090.4 1695,2107.7 1665.8,2123.8 1633,2129.8 1596.5,2137.9 1551.1,2142.5 1510.9,2139.1 1474.5,2131.9 1438,2121.7 1405.1,2103.8 1381.8,2093.4 1365,2087.1 1352.9,2081.1 1343.1,2077 1328.5,2075.3 1323,2074.2 1310.2,2075.7 1299.3,2076.6 1288.3,2078.6 1277.4,2079.7 1262.8,2078.7 1248.2,2079 1237.2,2079 1219,2080.6 1215.3,2079.1 1204.4,2076 1182.5,2059.4 1155.1,2039.8 1138.7,2023.2 1126.6,2010.6 1109.5,1996.5 1098.5,1987 1076.6,1980.7 1070.1,1979.2 1054.7,1965.7 1043.8,1957.1 1040.1,1953.4 1021.9,1936.7 1005.7,1923.5 993.6,1907.3 987.4,1908.8 965.5,1911.3 932.7,1920.2 914.5,1920.8 892.6,1917.9 855,1920.8 821.8,1924.1 788.9,1924.4 760,1924.2 727.6,1921.7 704.5,1914.9 685.6,1903.1 684.1,1903.6 663.7,1906.2 660.6,1909.1 643.4,1923.3 638.7,1929.8 629.3,1944.4 623,1944.4" fill="rgb(43,43,43)" fill-opacity="0.059"/>
<polygon points="623,1632.3 629.3,1632.3 638.7,1634.5 643.4,1632.4 660.6,1623.2 663.7,1622.9 684.1,1618.6 685.6,1619.6 704.5,1628.6 727.6,1629.8 760,1629.4 788.9,1640.3 821.8,1632 855,1632.5 892.6,1625.8 914.5,1636.7 932.7,1645.1 965.5,1654.8 987.4,1661.5 993.6,1666.7 1005.7,1674 1021.9,1684.4 1040.1,1709.2 1043.8,1712.8 1054.7,1724.1 1070.1,1733.9 1076.6,1738.7 1098.5,1748.9 1109.5,1753.1 1126.6,1763.3 1138.7,1770.1 1155.1,1782.3 1182.5,1804.5 1204.4,1820.2 1215.3,1828.8 1219,1829.5 1237.2,1834.3 1248.2,1832.9 1262.8,1831 1277.4,1823.7 1288.3,1818.4 1299.3,1817.7 1310.2,1816.8 1323,1818.5 1328.5,1818.9 1343.1,1825.7 1352.9,1829.8 1365,1830.7 1381.8,1832.2 1405.1,1835.7 1438,1845.6 1474.5,1855.8 1510.9,1857.7 1551.1,1862.6 1596.5,1856.4 1633,1852.6 1665.8,1839.7 1695,1831.6 1720.6,1829.1 1760.7,1807.4 1797.2,1795.9 1838.5,1793.8 1877.5,1790.5 1906.7,1786.7 1934.8,1786.9 1967.7,1782 1984.5,1775.9 2012.6,1745.8 2034.5,1720.3 2053.4,1699.8 2070.9,1679.4 2082.6,1668.5 2100.1,1664.1 2117.7,1657.2 2145.6,1641.6 2156.5,1620 2171.1,1571.9 2185.7,1548.6 2189.4,1542.2 2204,1536 2229.5,1535.7 2236.1,1535.8 2251.4,1527.7 2260.9,1523.4 2273.3,1511.3 2280.6,1503.6 2291.6,1505.4 2297.8,1505.3 2317.1,1520.1 2335.4,1530.7 2353.6,1532.3 2357.3,1530.4 2375.5,1523 2391.9,1503.8 2412,1490.6 2430.3,1483.9 2455.8,1481.2 2483.6,1482.8 2506.9,1484.3 2532.5,1488.2 2552.5,1492 2570.8,1508.1 2594.5,1498.5 2643.7,1477.8 2643.7,1831.5 2594.5,1807.2 2570.8,1786.7 2552.5,1768.1 2532.5,1760.2 2506.9,1750.3 2483.6,1746.3 2455.8,1750.7 2430.3,1752.4 2412,1750.5 2391.9,1747.2 2375.5,1758.9 2357.3,1768.3 2353.6,1767.3 2335.4,1764.1 2317.1,1750.9 2297.8,1737.3 2291.6,1732.1 2280.6,1735 2273.3,1735.4 2260.9,1743.1 2251.4,1749.7 2236.1,1752.9 2229.5,1754.8 2204,1756.9 2189.4,1771.1 2185.7,1773.9 2171.1,1797.7 2156.5,1840.8 2145.6,1864.9 2117.7,1885.5 2100.1,1889.9 2082.6,1894.3 2070.9,1905.2 2053.4,1923.2 2034.5,1941.1 2012.6,1966.6 1984.5,1995.7 1967.7,2005.3 1934.8,2014.2 1906.7,2023.5 1877.5,2031.4 1838.5,2037.2 1797.2,2050.8 1760.7,2058.3 1720.6,2076 1695,2092.5 1665.8,2108.1 1633,2114.6 1596.5,2122.4 1551.1,2127.1 1510.9,2123.6 1474.5,2116.8 1438,2106.5 1405.1,2089.1 1381.8,2079.1 1365,2073 1352.9,2067.3 1343.1,2063.2 1328.5,2061.2 1323,2060.1 1310.2,2061.5 1299.3,2062.3 1288.3,2064.3 1277.4,2065.6 1262.8,2065.1 1248.2,2065.4 1237.2,2065.5 1219,2066.8 1215.3,2065.3 1204.4,2061.9 1182.5,2045.4 1155.1,2025.7 1138.7,2009.3 1126.6,1997 1109.5,1983.1 1098.5,1973.9 1076.6,1967.4 1070.1,1965.7 1054.7,1952.4 1043.8,1943.7 1040.1,1940 1021.9,1922.8 1005.7,1909.8 993.6,1894.1 987.4,1895.2 965.5,1897.2 932.7,1905.1 914.5,1905.2 892.6,1901.8 855,1905 821.8,1908 788.9,1908.8 760,1907.9 727.6,1905.7 704.5,1899.1 685.6,1887.6 684.1,1888 663.7,1890.7 660.6,1893.4 643.4,1907.3 638.7,1913.6 629.3,1927.2 623,1927.2" fill="rgb(43,43,43)" fill-opacity="0.080"/>
<polygon points="623,1647.3 629.3,1647.3 638.7,1648.7 643.4,1646.4 660.6,1636.9 663.7,1636.5 684.1,1632.3 685.6,1633.2 704.5,1642.4 727.6,1643.9 760,1643.6 788.9,1654 821.8,1646 855,1646.3 892.6,1639.8 914.5,1650.3 932.7,1658.4 965.5,1667.2 987.4,1673.4 993.6,1678.3 1005.7,1686 1021.9,1696.6 1040.1,1720.9 1043.8,1724.6 1054.7,1735.7 1070.1,1745.7 1076.6,1750.3 1098.5,1760.4 1109.5,1764.8 1126.6,1775.2 1138.7,1782.3 1155.1,1794.7 1182.5,1816.8 1204.4,1832.5 1215.3,1840.9 1219,1841.6 1237.2,1846.1 1248.2,1844.7 1262.8,1842.9 1277.4,1836 1288.3,1831 1299.3,1830.2 1310.2,1829.2 1323,1830.8 1328.5,1831.3 1343.1,1837.8 1352.9,1841.9 1365,1843 1381.8,1844.7 1405.1,1848.6 1438,1858.9 1474.5,1869.1 1510.9,1871.2 1551.1,1876.1 1596.5,1870 1633,1865.9 1665.8,1853.3 1695,1844.9 1720.6,1841.7 1760.7,1820.2 1797.2,1808.9 1838.5,1806.2 1877.5,1802.8 1906.7,1798.7 1934.8,1798.5 1967.7,1793.3 1984.5,1787.1 2012.6,1757 2034.5,1731.5 2053.4,1711.2 2070.9,1690.9 2082.6,1680 2100.1,1675.6 2117.7,1668.8 2145.6,1652.9 2156.5,1631.2 2171.1,1583.4 2185.7,1560 2189.4,1553.9 2204,1547.3 2229.5,1546.9 2236.1,1546.9 2251.4,1539 2260.9,1534.6 2273.3,1522.7 2280.6,1515.4 2291.6,1516.9 2297.8,1517.1 2317.1,1531.8 2335.4,1542.6 2353.6,1544.2 2357.3,1542.5 2375.5,1535.1 2391.9,1516.2 2412,1503.8 2430.3,1497.6 2455.8,1494.9 2483.6,1496.2 2506.9,1497.8 2532.5,1502 2552.5,1506.1 2570.8,1522.3 2594.5,1514.2 2643.7,1495.8 2643.7,1813.5 2594.5,1791.5 2570.8,1772.5 2552.5,1754 2532.5,1746.4 2506.9,1736.7 2483.6,1732.9 2455.8,1737 2430.3,1738.8 2412,1737.3 2391.9,1734.8 2375.5,1746.9 2357.3,1756.2 2353.6,1755.4 2335.4,1752.2 2317.1,1739.2 2297.8,1725.5 2291.6,1720.6 2280.6,1723.2 2273.3,1724 2260.9,1731.9 2251.4,1738.4 2236.1,1741.8 2229.5,1743.7 2204,1745.6 2189.4,1759.5 2185.7,1762.4 2171.1,1786.2 2156.5,1829.6 2145.6,1853.5 2117.7,1873.9 2100.1,1878.4 2082.6,1882.8 2070.9,1893.8 2053.4,1911.8 2034.5,1929.8 2012.6,1955.4 1984.5,1984.5 1967.7,1993.9 1934.8,2002.6 1906.7,2011.5 1877.5,2019.1 1838.5,2024.8 1797.2,2037.8 1760.7,2045.5 1720.6,2063.4 1695,2079.2 1665.8,2094.5 1633,2101.2 1596.5,2108.9 1551.1,2113.6 1510.9,2110.1 1474.5,2103.5 1438,2093.2 1405.1,2076.2 1381.8,2066.5 1365,2060.6 1352.9,2055.2 1343.1,2051.1 1328.5,2048.8 1323,2047.8 1310.2,2049 1299.3,2049.9 1288.3,2051.8 1277.4,2053.3 1262.8,2053.2 1248.2,2053.6 1237.2,2053.8 1219,2054.7 1215.3,2053.3 1204.4,2049.6 1182.5,2033.1 1155.1,2013.3 1138.7,1997.1 1126.6,1985.1 1109.5,1971.4 1098.5,1962.4 1076.6,1955.7 1070.1,1953.9 1054.7,1940.8 1043.8,1931.9 1040.1,1928.3 1021.9,1910.7 1005.7,1897.8 993.6,1882.5 987.4,1883.3 965.5,1884.9 932.7,1891.8 914.5,1891.5 892.6,1887.7 855,1891.1 821.8,1894 788.9,1895.1 760,1893.8 727.6,1891.6 704.5,1885.4 685.6,1873.9 684.1,1874.3 663.7,1877 660.6,1879.6 643.4,1893.3 638.7,1899.4 629.3,1912.2 623,1912.2" fill="rgb(43,43,43)" fill-opacity="0.100"/>
<polygon points="623,1660.2 629.3,1660.2 638.7,1660.9 643.4,1658.4 660.6,1648.7 663.7,1648.2 684.1,1644.1 685.6,1644.9 704.5,1654.2 727.6,1655.9 760,1655.8 788.9,1665.7 821.8,1658.1 855,1658.2 892.6,1651.9 914.5,1662.1 932.7,1669.7 965.5,1677.7 987.4,1683.6 993.6,1688.2 1005.7,1696.3 1021.9,1707 1040.1,1731 1043.8,1734.7 1054.7,1745.7 1070.1,1755.8 1076.6,1760.3 1098.5,1770.2 1109.5,1774.8 1126.6,1785.4 1138.7,1792.7 1155.1,1805.3 1182.5,1827.3 1204.4,1843.1 1215.3,1851.2 1219,1852 1237.2,1856.2 1248.2,1854.9 1262.8,1853.1 1277.4,1846.5 1288.3,1841.7 1299.3,1840.8 1310.2,1839.9 1323,1841.3 1328.5,1841.8 1343.1,1848.1 1352.9,1852.3 1365,1853.6 1381.8,1855.5 1405.1,1859.6 1438,1870.3 1474.5,1880.5 1510.9,1882.8 1551.1,1887.6 1596.5,1881.6 1633,1877.4 1665.8,1865.1 1695,1856.2 1720.6,1852.4 1760.7,1831.1 1797.2,1820 1838.5,1816.8 1877.5,1813.3 1906.7,1809.1 1934.8,1808.4 1967.7,1803.1 1984.5,1796.6 2012.6,1766.7 2034.5,1741.1 2053.4,1721 2070.9,1700.8 2082.6,1689.8 2100.1,1685.4 2117.7,1678.8 2145.6,1662.7 2156.5,1640.9 2171.1,1593.2 2185.7,1569.9 2189.4,1563.9 2204,1556.9 2229.5,1556.4 2236.1,1556.4 2251.4,1548.7 2260.9,1544.2 2273.3,1532.5 2280.6,1525.5 2291.6,1526.8 2297.8,1527.3 2317.1,1541.9 2335.4,1552.7 2353.6,1554.5 2357.3,1552.9 2375.5,1545.3 2391.9,1526.8 2412,1515.1 2430.3,1509.3 2455.8,1506.7 2483.6,1507.7 2506.9,1509.4 2532.5,1513.9 2552.5,1518.1 2570.8,1534.4 2594.5,1527.7 2643.7,1511.2 2643.7,1798.1 2594.5,1778 2570.8,1760.3 2552.5,1742 2532.5,1734.5 2506.9,1725.1 2483.6,1721.4 2455.8,1725.3 2430.3,1727 2412,1726 2391.9,1724.2 2375.5,1736.6 2357.3,1745.8 2353.6,1745.1 2335.4,1742 2317.1,1729.1 2297.8,1715.3 2291.6,1710.7 2280.6,1713.1 2273.3,1714.2 2260.9,1722.3 2251.4,1728.8 2236.1,1732.4 2229.5,1734.1 2204,1736 2189.4,1749.5 2185.7,1752.6 2171.1,1776.4 2156.5,1820 2145.6,1843.8 2117.7,1863.9 2100.1,1868.6 2082.6,1872.9 2070.9,1883.9 2053.4,1902 2034.5,1920.2 2012.6,1945.7 1984.5,1974.9 1967.7,1984.2 1934.8,1992.7 1906.7,2001.1 1877.5,2008.6 1838.5,2014.2 1797.2,2026.7 1760.7,2034.6 1720.6,2052.7 1695,2067.8 1665.8,2082.8 1633,2089.8 1596.5,2097.3 1551.1,2102.1 1510.9,2098.5 1474.5,2092.1 1438,2081.9 1405.1,2065.1 1381.8,2055.7 1365,2050.1 1352.9,2044.8 1343.1,2040.7 1328.5,2038.3 1323,2037.3 1310.2,2038.4 1299.3,2039.2 1288.3,2041.1 1277.4,2042.7 1262.8,2043 1248.2,2043.4 1237.2,2043.7 1219,2044.4 1215.3,2043 1204.4,2039.1 1182.5,2022.6 1155.1,2002.7 1138.7,1986.7 1126.6,1974.9 1109.5,1961.4 1098.5,1952.6 1076.6,1945.8 1070.1,1943.8 1054.7,1930.9 1043.8,1921.8 1040.1,1918.2 1021.9,1900.3 1005.7,1887.5 993.6,1872.6 987.4,1873.1 965.5,1874.3 932.7,1880.5 914.5,1879.8 892.6,1875.7 855,1879.2 821.8,1881.9 788.9,1883.4 760,1881.6 727.6,1879.6 704.5,1873.6 685.6,1862.2 684.1,1862.5 663.7,1865.3 660.6,1867.8 643.4,1881.3 638.7,1887.2 629.3,1899.3 623,1899.3" fill="rgb(43,43,43)" fill-opacity="0.125"/>
<polygon points="623,1670.9 629.3,1670.9 638.7,1671 643.4,1668.4 660.6,1658.6 663.7,1657.9 684.1,1653.9 685.6,1654.6 704.5,1664 727.6,1665.9 760,1665.9 788.9,1675.5 821.8,1668.1 855,1668.1 892.6,1661.9 914.5,1671.8 932.7,1679.2 965.5,1686.6 987.4,1692.1 993.6,1696.5 1005.7,1704.8 1021.9,1715.6 1040.1,1739.4 1043.8,1743 1054.7,1754 1070.1,1764.2 1076.6,1768.6 1098.5,1778.4 1109.5,1783.2 1126.6,1793.9 1138.7,1801.4 1155.1,1814.1 1182.5,1836.1 1204.4,1851.9 1215.3,1859.8 1219,1860.6 1237.2,1864.6 1248.2,1863.3 1262.8,1861.6 1277.4,1855.3 1288.3,1850.6 1299.3,1849.7 1310.2,1848.8 1323,1850.1 1328.5,1850.6 1343.1,1856.8 1352.9,1860.9 1365,1862.4 1381.8,1864.5 1405.1,1868.8 1438,1879.7 1474.5,1890 1510.9,1892.5 1551.1,1897.2 1596.5,1891.2 1633,1886.9 1665.8,1874.8 1695,1865.7 1720.6,1861.4 1760.7,1840.2 1797.2,1829.3 1838.5,1825.7 1877.5,1822 1906.7,1817.7 1934.8,1816.6 1967.7,1811.2 1984.5,1804.6 2012.6,1774.7 2034.5,1749.2 2053.4,1729.1 2070.9,1709 2082.6,1698 2100.1,1693.7 2117.7,1687.1 2145.6,1670.8 2156.5,1648.9 2171.1,1601.4 2185.7,1578.1 2189.4,1572.2 2204,1565 2229.5,1564.4 2236.1,1564.2 2251.4,1556.8 2260.9,1552.2 2273.3,1540.7 2280.6,1533.9 2291.6,1535.1 2297.8,1535.7 2317.1,1550.3 2335.4,1561.2 2353.6,1563.1 2357.3,1561.5 2375.5,1553.9 2391.9,1535.6 2412,1524.6 2430.3,1519.1 2455.8,1516.5 2483.6,1517.3 2506.9,1519.1 2532.5,1523.8 2552.5,1528.2 2570.8,1544.6 2594.5,1538.9 2643.7,1524.1 2643.7,1785.2 2594.5,1766.8 2570.8,1750.2 2552.5,1731.9 2532.5,1724.6 2506.9,1715.4 2483.6,1711.8 2455.8,1715.5 2430.3,1717.3 2412,1716.5 2391.9,1715.3 2375.5,1728.1 2357.3,1737.2 2353.6,1736.6 2335.4,1733.5 2317.1,1720.7 2297.8,1706.9 2291.6,1702.5 2280.6,1704.7 2273.3,1706.1 2260.9,1714.3 2251.4,1720.7 2236.1,1724.5 2229.5,1726.1 2204,1728 2189.4,1741.2 2185.7,1744.4 2171.1,1768.1 2156.5,1811.9 2145.6,1835.7 2117.7,1855.6 2100.1,1860.4 2082.6,1864.7 2070.9,1875.7 2053.4,1893.9 2034.5,1912.2 2012.6,1937.7 1984.5,1966.9 1967.7,1976 1934.8,1984.5 1906.7,1992.5 1877.5,1999.9 1838.5,2005.3 1797.2,2017.4 1760.7,2025.5 1720.6,2043.7 1695,2058.4 1665.8,2073 1633,2080.3 1596.5,2087.6 1551.1,2092.5 1510.9,2088.8 1474.5,2082.6 1438,2072.4 1405.1,2055.9 1381.8,2046.7 1365,2041.2 1352.9,2036.2 1343.1,2032.1 1328.5,2029.5 1323,2028.5 1310.2,2029.5 1299.3,2030.3 1288.3,2032.1 1277.4,2033.9 1262.8,2034.5 1248.2,2035 1237.2,2035.3 1219,2035.7 1215.3,2034.4 1204.4,2030.3 1182.5,2013.9 1155.1,1993.8 1138.7,1978 1126.6,1966.4 1109.5,1953 1098.5,1944.4 1076.6,1937.4 1070.1,1935.4 1054.7,1922.6 1043.8,1913.4 1040.1,1909.8 1021.9,1891.6 1005.7,1879 993.6,1864.3 987.4,1864.6 965.5,1865.5 932.7,1871.1 914.5,1870 892.6,1865.7 855,1869.3 821.8,1871.9 788.9,1873.7 760,1871.5 727.6,1869.5 704.5,1863.7 685.6,1852.5 684.1,1852.7 663.7,1855.6 660.6,1858 643.4,1871.3 638.7,1877.1 629.3,1888.6 623,1888.6" fill="rgb(43,43,43)" fill-opacity="0.159"/>
<polygon points="623,1680.6 629.3,1680.6 638.7,1680.2 643.4,1677.4 660.6,1667.4 663.7,1666.7 684.1,1662.7 685.6,1663.4 704.5,1672.9 727.6,1674.9 760,1675 788.9,1684.3 821.8,1677.2 855,1677.1 892.6,1671 914.5,1680.6 932.7,1687.7 965.5,1694.5 987.4,1699.7 993.6,1703.9 1005.7,1712.6 1021.9,1723.4 1040.1,1747 1043.8,1750.6 1054.7,1761.5 1070.1,1771.8 1076.6,1776.1 1098.5,1785.7 1109.5,1790.7 1126.6,1801.5 1138.7,1809.2 1155.1,1822.1 1182.5,1843.9 1204.4,1859.8 1215.3,1867.5 1219,1868.4 1237.2,1872.1 1248.2,1870.9 1262.8,1869.3 1277.4,1863.3 1288.3,1858.7 1299.3,1857.7 1310.2,1856.8 1323,1858 1328.5,1858.6 1343.1,1864.5 1352.9,1868.7 1365,1870.3 1381.8,1872.6 1405.1,1877.1 1438,1888.3 1474.5,1898.5 1510.9,1901.2 1551.1,1905.9 1596.5,1900 1633,1895.5 1665.8,1883.6 1695,1874.3 1720.6,1869.5 1760.7,1848.4 1797.2,1837.6 1838.5,1833.6 1877.5,1829.9 1906.7,1825.4 1934.8,1824.1 1967.7,1818.5 1984.5,1811.8 2012.6,1781.9 2034.5,1756.4 2053.4,1736.4 2070.9,1716.4 2082.6,1705.4 2100.1,1701 2117.7,1694.5 2145.6,1678.1 2156.5,1656.1 2171.1,1608.8 2185.7,1585.4 2189.4,1579.7 2204,1572.2 2229.5,1571.6 2236.1,1571.3 2251.4,1564 2260.9,1559.4 2273.3,1548 2280.6,1541.4 2291.6,1542.5 2297.8,1543.3 2317.1,1557.9 2335.4,1568.9 2353.6,1570.7 2357.3,1569.3 2375.5,1561.6 2391.9,1543.6 2412,1533.1 2430.3,1527.9 2455.8,1525.3 2483.6,1525.9 2506.9,1527.8 2532.5,1532.7 2552.5,1537.2 2570.8,1553.7 2594.5,1549 2643.7,1535.7 2643.7,1773.7 2594.5,1756.7 2570.8,1741.1 2552.5,1722.9 2532.5,1715.7 2506.9,1706.7 2483.6,1703.2 2455.8,1706.6 2430.3,1708.5 2412,1708 2391.9,1707.4 2375.5,1720.3 2357.3,1729.4 2353.6,1728.9 2335.4,1725.9 2317.1,1713.2 2297.8,1699.3 2291.6,1695 2280.6,1697.1 2273.3,1698.8 2260.9,1707.1 2251.4,1713.4 2236.1,1717.4 2229.5,1719 2204,1720.7 2189.4,1733.7 2185.7,1737 2171.1,1760.8 2156.5,1804.7 2145.6,1828.4 2117.7,1848.2 2100.1,1853 2082.6,1857.3 2070.9,1868.3 2053.4,1886.6 2034.5,1904.9 2012.6,1930.5 1984.5,1959.7 1967.7,1968.7 1934.8,1977 1906.7,1984.8 1877.5,1992 1838.5,1997.4 1797.2,2009.1 1760.7,2017.2 1720.6,2035.6 1695,2049.8 1665.8,2064.2 1633,2071.7 1596.5,2078.9 1551.1,2083.8 1510.9,2080.1 1474.5,2074.1 1438,2063.8 1405.1,2047.6 1381.8,2038.7 1365,2033.3 1352.9,2028.4 1343.1,2024.3 1328.5,2021.5 1323,2020.6 1310.2,2021.5 1299.3,2022.3 1288.3,2024.1 1277.4,2026 1262.8,2026.8 1248.2,2027.4 1237.2,2027.7 1219,2028 1215.3,2026.6 1204.4,2022.4 1182.5,2006 1155.1,1985.8 1138.7,1970.2 1126.6,1958.7 1109.5,1945.5 1098.5,1937.1 1076.6,1930 1070.1,1927.8 1054.7,1915.1 1043.8,1905.9 1040.1,1902.2 1021.9,1883.8 1005.7,1871.2 993.6,1856.9 987.4,1856.9 965.5,1857.6 932.7,1862.5 914.5,1861.2 892.6,1856.6 855,1860.4 821.8,1862.8 788.9,1864.9 760,1862.4 727.6,1860.5 704.5,1854.9 685.6,1843.7 684.1,1843.9 663.7,1846.8 660.6,1849.2 643.4,1862.3 638.7,1867.9 629.3,1879 623,1879" fill="rgb(43,43,43)" fill-opacity="0.151"/>
<polygon points="623,1689.2 629.3,1689.2 638.7,1688.3 643.4,1685.4 660.6,1675.3 663.7,1674.5 684.1,1670.5 685.6,1671.2 704.5,1680.7 727.6,1683 760,1683.1 788.9,1692.1 821.8,1685.2 855,1685 892.6,1679 914.5,1688.4 932.7,1695.2 965.5,1701.5 987.4,1706.5 993.6,1710.5 1005.7,1719.4 1021.9,1730.4 1040.1,1753.7 1043.8,1757.3 1054.7,1768.1 1070.1,1778.5 1076.6,1782.7 1098.5,1792.3 1109.5,1797.4 1126.6,1808.3 1138.7,1816.2 1155.1,1829.2 1182.5,1850.9 1204.4,1866.8 1215.3,1874.4 1219,1875.3 1237.2,1878.9 1248.2,1877.7 1262.8,1876.1 1277.4,1870.3 1288.3,1865.8 1299.3,1864.8 1310.2,1863.9 1323,1865 1328.5,1865.6 1343.1,1871.5 1352.9,1875.6 1365,1877.4 1381.8,1879.8 1405.1,1884.5 1438,1895.9 1474.5,1906.1 1510.9,1908.9 1551.1,1913.6 1596.5,1907.7 1633,1903.1 1665.8,1891.4 1695,1881.9 1720.6,1876.7 1760.7,1855.7 1797.2,1845 1838.5,1840.7 1877.5,1836.9 1906.7,1832.3 1934.8,1830.7 1967.7,1825 1984.5,1818.2 2012.6,1788.4 2034.5,1762.8 2053.4,1742.9 2070.9,1722.9 2082.6,1712 2100.1,1707.6 2117.7,1701.2 2145.6,1684.6 2156.5,1662.6 2171.1,1615.4 2185.7,1592 2189.4,1586.4 2204,1578.6 2229.5,1577.9 2236.1,1577.7 2251.4,1570.5 2260.9,1565.8 2273.3,1554.5 2280.6,1548.2 2291.6,1549.1 2297.8,1550 2317.1,1564.6 2335.4,1575.7 2353.6,1577.6 2357.3,1576.2 2375.5,1568.5 2391.9,1550.7 2412,1540.7 2430.3,1535.7 2455.8,1533.2 2483.6,1533.6 2506.9,1535.5 2532.5,1540.6 2552.5,1545.2 2570.8,1561.8 2594.5,1558 2643.7,1546 2643.7,1763.4 2594.5,1747.7 2570.8,1733 2552.5,1714.9 2532.5,1707.8 2506.9,1699 2483.6,1695.5 2455.8,1698.8 2430.3,1700.7 2412,1700.4 2391.9,1700.3 2375.5,1713.5 2357.3,1722.5 2353.6,1722 2335.4,1719.1 2317.1,1706.5 2297.8,1692.6 2291.6,1688.4 2280.6,1690.4 2273.3,1692.2 2260.9,1700.8 2251.4,1707 2236.1,1711.1 2229.5,1712.6 2204,1714.3 2189.4,1727 2185.7,1730.5 2171.1,1754.2 2156.5,1798.3 2145.6,1821.9 2117.7,1841.5 2100.1,1846.4 2082.6,1850.8 2070.9,1861.7 2053.4,1880.1 2034.5,1898.5 2012.6,1924.1 1984.5,1953.3 1967.7,1962.2 1934.8,1970.4 1906.7,1977.9 1877.5,1985 1838.5,1990.3 1797.2,2001.7 1760.7,2009.9 1720.6,2028.4 1695,2042.2 1665.8,2056.4 1633,2064.1 1596.5,2071.1 1551.1,2076.1 1510.9,2072.4 1474.5,2066.5 1438,2056.2 1405.1,2040.2 1381.8,2031.5 1365,2026.3 1352.9,2021.5 1343.1,2017.4 1328.5,2014.5 1323,2013.5 1310.2,2014.3 1299.3,2015.2 1288.3,2016.9 1277.4,2019 1262.8,2020 1248.2,2020.6 1237.2,2021 1219,2021.1 1215.3,2019.8 1204.4,2015.4 1182.5,1999 1155.1,1978.8 1138.7,1963.2 1126.6,1951.9 1109.5,1938.8 1098.5,1930.5 1076.6,1923.3 1070.1,1921 1054.7,1908.4 1043.8,1899.2 1040.1,1895.5 1021.9,1876.9 1005.7,1864.4 993.6,1850.2 987.4,1850.1 965.5,1850.5 932.7,1855 914.5,1853.4 892.6,1848.6 855,1852.5 821.8,1854.8 788.9,1857.1 760,1854.3 727.6,1852.5 704.5,1847 685.6,1835.9 684.1,1836 663.7,1839 660.6,1841.3 643.4,1854.3 638.7,1859.8 629.3,1870.4 623,1870.4" fill="rgb(43,43,43)" fill-opacity="0.156"/>
<polygon points="623,1696.7 629.3,1696.7 638.7,1695.4 643.4,1692.4 660.6,1682.1 663.7,1681.3 684.1,1677.4 685.6,1678 704.5,1687.6 727.6,1690 760,1690.2 788.9,1698.9 821.8,1692.2 855,1691.9 892.6,1686 914.5,1695.3 932.7,1701.9 965.5,1707.7 987.4,1712.5 993.6,1716.3 1005.7,1725.4 1021.9,1736.4 1040.1,1759.5 1043.8,1763.2 1054.7,1773.9 1070.1,1784.4 1076.6,1788.6 1098.5,1798 1109.5,1803.3 1126.6,1814.3 1138.7,1822.3 1155.1,1835.4 1182.5,1857.1 1204.4,1873 1215.3,1880.4 1219,1881.3 1237.2,1884.8 1248.2,1883.6 1262.8,1882.1 1277.4,1876.5 1288.3,1872.1 1299.3,1871.1 1310.2,1870.2 1323,1871.2 1328.5,1871.8 1343.1,1877.5 1352.9,1881.6 1365,1883.5 1381.8,1886 1405.1,1891 1438,1902.5 1474.5,1912.7 1510.9,1915.7 1551.1,1920.3 1596.5,1914.5 1633,1909.8 1665.8,1898.2 1695,1888.5 1720.6,1883 1760.7,1862.1 1797.2,1851.5 1838.5,1846.9 1877.5,1843.1 1906.7,1838.4 1934.8,1836.5 1967.7,1830.7 1984.5,1823.8 2012.6,1794 2034.5,1768.4 2053.4,1748.6 2070.9,1728.7 2082.6,1717.7 2100.1,1713.4 2117.7,1707 2145.6,1690.3 2156.5,1668.2 2171.1,1621.1 2185.7,1597.7 2189.4,1592.2 2204,1584.2 2229.5,1583.5 2236.1,1583.2 2251.4,1576.2 2260.9,1571.4 2273.3,1560.2 2280.6,1554.1 2291.6,1554.9 2297.8,1555.9 2317.1,1570.4 2335.4,1581.6 2353.6,1583.6 2357.3,1582.3 2375.5,1574.5 2391.9,1556.9 2412,1547.3 2430.3,1542.5 2455.8,1540 2483.6,1540.3 2506.9,1542.3 2532.5,1547.5 2552.5,1552.2 2570.8,1568.9 2594.5,1565.9 2643.7,1555 2643.7,1754.4 2594.5,1739.8 2570.8,1725.9 2552.5,1707.8 2532.5,1700.9 2506.9,1692.2 2483.6,1688.8 2455.8,1691.9 2430.3,1693.8 2412,1693.8 2391.9,1694.1 2375.5,1707.5 2357.3,1716.4 2353.6,1716.1 2335.4,1713.1 2317.1,1700.6 2297.8,1686.7 2291.6,1682.7 2280.6,1684.5 2273.3,1686.5 2260.9,1695.2 2251.4,1701.3 2236.1,1705.5 2229.5,1707 2204,1708.7 2189.4,1721.2 2185.7,1724.8 2171.1,1748.4 2156.5,1792.7 2145.6,1816.2 2117.7,1835.7 2100.1,1840.6 2082.6,1845 2070.9,1856 2053.4,1874.4 2034.5,1892.9 2012.6,1918.4 1984.5,1947.7 1967.7,1956.5 1934.8,1964.6 1906.7,1971.9 1877.5,1978.8 1838.5,1984.1 1797.2,1995.2 1760.7,2003.6 1720.6,2022.1 1695,2035.6 1665.8,2049.6 1633,2057.4 1596.5,2064.4 1551.1,2069.4 1510.9,2065.6 1474.5,2059.8 1438,2049.6 1405.1,2033.8 1381.8,2025.2 1365,2020.1 1352.9,2015.5 1343.1,2011.4 1328.5,2008.3 1323,2007.4 1310.2,2008.1 1299.3,2009 1288.3,2010.7 1277.4,2012.8 1262.8,2014 1248.2,2014.7 1237.2,2015.1 1219,2015 1215.3,2013.7 1204.4,2009.2 1182.5,1992.8 1155.1,1972.6 1138.7,1957.1 1126.6,1946 1109.5,1932.9 1098.5,1924.8 1076.6,1917.5 1070.1,1915.1 1054.7,1902.6 1043.8,1893.3 1040.1,1889.7 1021.9,1870.8 1005.7,1858.4 993.6,1844.5 987.4,1844.2 965.5,1844.3 932.7,1848.4 914.5,1846.6 892.6,1841.6 855,1845.5 821.8,1847.8 788.9,1850.2 760,1847.2 727.6,1845.5 704.5,1840.1 685.6,1829.1 684.1,1829.2 663.7,1832.2 660.6,1834.4 643.4,1847.3 638.7,1852.7 629.3,1862.9 623,1862.9" fill="rgb(43,43,43)" fill-opacity="0.211"/>
<polygon points="623,1703.1 629.3,1703.1 638.7,1701.5 643.4,1698.4 660.6,1688 663.7,1687.1 684.1,1683.2 685.6,1683.9 704.5,1693.5 727.6,1696 760,1696.3 788.9,1704.8 821.8,1698.2 855,1697.9 892.6,1692 914.5,1701.1 932.7,1707.5 965.5,1713 987.4,1717.6 993.6,1721.3 1005.7,1730.6 1021.9,1741.6 1040.1,1764.6 1043.8,1768.2 1054.7,1778.9 1070.1,1789.5 1076.6,1793.6 1098.5,1802.9 1109.5,1808.3 1126.6,1819.4 1138.7,1827.5 1155.1,1840.7 1182.5,1862.3 1204.4,1878.2 1215.3,1885.6 1219,1886.5 1237.2,1889.8 1248.2,1888.7 1262.8,1887.2 1277.4,1881.7 1288.3,1877.5 1299.3,1876.4 1310.2,1875.5 1323,1876.5 1328.5,1877.1 1343.1,1882.7 1352.9,1886.8 1365,1888.8 1381.8,1891.4 1405.1,1896.5 1438,1908.2 1474.5,1918.4 1510.9,1921.5 1551.1,1926.1 1596.5,1920.3 1633,1915.5 1665.8,1904.1 1695,1894.2 1720.6,1888.4 1760.7,1867.6 1797.2,1857.1 1838.5,1852.2 1877.5,1848.3 1906.7,1843.5 1934.8,1841.4 1967.7,1835.6 1984.5,1828.6 2012.6,1798.8 2034.5,1773.2 2053.4,1753.4 2070.9,1733.6 2082.6,1722.7 2100.1,1718.3 2117.7,1712 2145.6,1695.2 2156.5,1673 2171.1,1626.1 2185.7,1602.7 2189.4,1597.2 2204,1589 2229.5,1588.3 2236.1,1587.9 2251.4,1581 2260.9,1576.1 2273.3,1565.1 2280.6,1559.1 2291.6,1559.8 2297.8,1561 2317.1,1575.5 2335.4,1586.7 2353.6,1588.7 2357.3,1587.5 2375.5,1579.7 2391.9,1562.2 2412,1553 2430.3,1548.4 2455.8,1545.9 2483.6,1546 2506.9,1548.1 2532.5,1553.5 2552.5,1558.3 2570.8,1575 2594.5,1572.6 2643.7,1562.7 2643.7,1746.6 2594.5,1733.1 2570.8,1719.8 2552.5,1701.8 2532.5,1694.9 2506.9,1686.4 2483.6,1683 2455.8,1686.1 2430.3,1688 2412,1688.1 2391.9,1688.8 2375.5,1702.3 2357.3,1711.2 2353.6,1710.9 2335.4,1708.1 2317.1,1695.5 2297.8,1681.6 2291.6,1677.7 2280.6,1679.4 2273.3,1681.6 2260.9,1690.4 2251.4,1696.5 2236.1,1700.8 2229.5,1702.2 2204,1703.9 2189.4,1716.2 2185.7,1719.8 2171.1,1743.5 2156.5,1787.8 2145.6,1811.3 2117.7,1830.7 2100.1,1835.7 2082.6,1840.1 2070.9,1851 2053.4,1869.6 2034.5,1888.1 2012.6,1913.6 1984.5,1942.9 1967.7,1951.7 1934.8,1959.7 1906.7,1966.7 1877.5,1973.6 1838.5,1978.8 1797.2,1989.6 1760.7,1998.1 1720.6,2016.7 1695,2029.9 1665.8,2043.7 1633,2051.7 1596.5,2058.6 1551.1,2063.6 1510.9,2059.8 1474.5,2054.1 1438,2043.9 1405.1,2028.3 1381.8,2019.8 1365,2014.8 1352.9,2010.3 1343.1,2006.2 1328.5,2003 1323,2002.1 1310.2,2002.8 1299.3,2003.6 1288.3,2005.3 1277.4,2007.6 1262.8,2008.9 1248.2,2009.6 1237.2,2010 1219,2009.9 1215.3,2008.6 1204.4,2003.9 1182.5,1987.6 1155.1,1967.3 1138.7,1951.9 1126.6,1940.9 1109.5,1927.9 1098.5,1919.9 1076.6,1912.5 1070.1,1910.1 1054.7,1897.7 1043.8,1888.3 1040.1,1884.6 1021.9,1865.6 1005.7,1853.2 993.6,1839.5 987.4,1839.1 965.5,1839 932.7,1842.7 914.5,1840.7 892.6,1835.6 855,1839.6 821.8,1841.8 788.9,1844.4 760,1841.1 727.6,1839.5 704.5,1834.2 685.6,1823.2 684.1,1823.3 663.7,1826.4 660.6,1828.5 643.4,1841.3 638.7,1846.6 629.3,1856.5 623,1856.5" fill="rgb(43,43,43)" fill-opacity="0.267"/>
<polygon points="623,1707.9 629.3,1707.9 638.7,1706 643.4,1702.9 660.6,1692.5 663.7,1691.5 684.1,1687.7 685.6,1688.3 704.5,1698 727.6,1700.5 760,1700.8 788.9,1709.2 821.8,1702.8 855,1702.3 892.6,1696.6 914.5,1705.5 932.7,1711.8 965.5,1717 987.4,1721.4 993.6,1725 1005.7,1734.4 1021.9,1745.5 1040.1,1768.4 1043.8,1772 1054.7,1782.7 1070.1,1793.3 1076.6,1797.3 1098.5,1806.6 1109.5,1812.1 1126.6,1823.2 1138.7,1831.4 1155.1,1844.7 1182.5,1866.3 1204.4,1882.2 1215.3,1889.5 1219,1890.4 1237.2,1893.6 1248.2,1892.5 1262.8,1891 1277.4,1885.7 1288.3,1881.5 1299.3,1880.4 1310.2,1879.5 1323,1880.4 1328.5,1881 1343.1,1886.6 1352.9,1890.7 1365,1892.8 1381.8,1895.5 1405.1,1900.6 1438,1912.5 1474.5,1922.7 1510.9,1925.9 1551.1,1930.4 1596.5,1924.6 1633,1919.8 1665.8,1908.5 1695,1898.5 1720.6,1892.4 1760.7,1871.7 1797.2,1861.2 1838.5,1856.2 1877.5,1852.3 1906.7,1847.4 1934.8,1845.2 1967.7,1839.2 1984.5,1832.2 2012.6,1802.4 2034.5,1776.9 2053.4,1757.1 2070.9,1737.3 2082.6,1726.4 2100.1,1722 2117.7,1715.7 2145.6,1698.8 2156.5,1676.6 2171.1,1629.8 2185.7,1606.3 2189.4,1600.9 2204,1592.7 2229.5,1591.9 2236.1,1591.5 2251.4,1584.6 2260.9,1579.7 2273.3,1568.8 2280.6,1562.9 2291.6,1563.5 2297.8,1564.8 2317.1,1579.3 2335.4,1590.5 2353.6,1592.5 2357.3,1591.4 2375.5,1583.5 2391.9,1566.2 2412,1557.2 2430.3,1552.8 2455.8,1550.3 2483.6,1550.3 2506.9,1552.5 2532.5,1557.9 2552.5,1562.8 2570.8,1579.5 2594.5,1577.6 2643.7,1568.5 2643.7,1740.9 2594.5,1728.1 2570.8,1715.2 2552.5,1697.3 2532.5,1690.5 2506.9,1682.1 2483.6,1678.7 2455.8,1681.6 2430.3,1683.6 2412,1683.9 2391.9,1684.8 2375.5,1698.5 2357.3,1707.3 2353.6,1707.1 2335.4,1704.2 2317.1,1691.8 2297.8,1677.8 2291.6,1674 2280.6,1675.6 2273.3,1678 2260.9,1686.8 2251.4,1692.8 2236.1,1697.2 2229.5,1698.6 2204,1700.3 2189.4,1712.4 2185.7,1716.1 2171.1,1739.8 2156.5,1784.2 2145.6,1807.6 2117.7,1827 2100.1,1832 2082.6,1836.4 2070.9,1847.4 2053.4,1865.9 2034.5,1884.5 2012.6,1910 1984.5,1939.3 1967.7,1948 1934.8,1955.9 1906.7,1962.8 1877.5,1969.6 1838.5,1974.8 1797.2,1985.5 1760.7,1994 1720.6,2012.7 1695,2025.6 1665.8,2039.3 1633,2047.4 1596.5,2054.2 1551.1,2059.3 1510.9,2055.5 1474.5,2049.9 1438,2039.6 1405.1,2024.1 1381.8,2015.8 1365,2010.9 1352.9,2006.4 1343.1,2002.3 1328.5,1999.1 1323,1998.2 1310.2,1998.8 1299.3,1999.6 1288.3,2001.3 1277.4,2003.6 1262.8,2005.1 1248.2,2005.8 1237.2,2006.3 1219,2006 1215.3,2004.7 1204.4,2000 1182.5,1983.6 1155.1,1963.3 1138.7,1948 1126.6,1937.1 1109.5,1924.1 1098.5,1916.2 1076.6,1908.7 1070.1,1906.3 1054.7,1893.9 1043.8,1884.5 1040.1,1880.8 1021.9,1861.7 1005.7,1849.4 993.6,1835.8 987.4,1835.3 965.5,1835.1 932.7,1838.4 914.5,1836.3 892.6,1831 855,1835.1 821.8,1837.2 788.9,1840 760,1836.5 727.6,1834.9 704.5,1829.8 685.6,1818.8 684.1,1818.9 663.7,1822 660.6,1824.1 643.4,1836.8 638.7,1842 629.3,1851.6 623,1851.6" fill="rgb(43,43,43)" fill-opacity="0.455"/>
<polygon points="623,1712.8 629.3,1712.8 638.7,1710.6 643.4,1707.4 660.6,1696.9 663.7,1695.9 684.1,1692.1 685.6,1692.7 704.5,1702.4 727.6,1705 760,1705.4 788.9,1713.5 821.8,1707.3 855,1706.8 892.6,1701.1 914.5,1709.9 932.7,1716 965.5,1720.9 987.4,1725.2 993.6,1728.7 1005.7,1738.3 1021.9,1749.4 1040.1,1772.1 1043.8,1775.8 1054.7,1786.4 1070.1,1797.1 1076.6,1801 1098.5,1810.3 1109.5,1815.8 1126.6,1827 1138.7,1835.3 1155.1,1848.7 1182.5,1870.2 1204.4,1886.1 1215.3,1893.3 1219,1894.2 1237.2,1897.4 1248.2,1896.3 1262.8,1894.8 1277.4,1889.7 1288.3,1885.5 1299.3,1884.4 1310.2,1883.5 1323,1884.4 1328.5,1885 1343.1,1890.5 1352.9,1894.6 1365,1896.8 1381.8,1899.5 1405.1,1904.8 1438,1916.8 1474.5,1927 1510.9,1930.2 1551.1,1934.7 1596.5,1929 1633,1924 1665.8,1912.9 1695,1902.7 1720.6,1896.4 1760.7,1875.8 1797.2,1865.4 1838.5,1860.2 1877.5,1856.2 1906.7,1851.3 1934.8,1848.9 1967.7,1842.9 1984.5,1835.8 2012.6,1806 2034.5,1780.5 2053.4,1760.7 2070.9,1741 2082.6,1730.1 2100.1,1725.7 2117.7,1719.5 2145.6,1702.5 2156.5,1680.2 2171.1,1633.5 2185.7,1610 2189.4,1604.7 2204,1596.3 2229.5,1595.5 2236.1,1595 2251.4,1588.3 2260.9,1583.3 2273.3,1572.4 2280.6,1566.7 2291.6,1567.2 2297.8,1568.6 2317.1,1583 2335.4,1594.3 2353.6,1596.4 2357.3,1595.3 2375.5,1587.4 2391.9,1570.2 2412,1561.5 2430.3,1557.1 2455.8,1554.7 2483.6,1554.6 2506.9,1556.8 2532.5,1562.4 2552.5,1567.3 2570.8,1584.1 2594.5,1582.7 2643.7,1574.3 2643.7,1735.1 2594.5,1723 2570.8,1710.7 2552.5,1692.8 2532.5,1686 2506.9,1677.7 2483.6,1674.4 2455.8,1677.2 2430.3,1679.2 2412,1679.6 2391.9,1680.8 2375.5,1694.6 2357.3,1703.4 2353.6,1703.2 2335.4,1700.4 2317.1,1688 2297.8,1674 2291.6,1670.3 2280.6,1671.9 2273.3,1674.3 2260.9,1683.2 2251.4,1689.2 2236.1,1693.7 2229.5,1695.1 2204,1696.7 2189.4,1708.7 2185.7,1712.5 2171.1,1736.1 2156.5,1780.6 2145.6,1804 2117.7,1823.2 2100.1,1828.3 2082.6,1832.7 2070.9,1843.7 2053.4,1862.2 2034.5,1880.8 2012.6,1906.4 1984.5,1935.7 1967.7,1944.4 1934.8,1952.2 1906.7,1958.9 1877.5,1965.7 1838.5,1970.8 1797.2,1981.3 1760.7,1989.9 1720.6,2008.7 1695,2021.4 1665.8,2034.9 1633,2043.1 1596.5,2049.9 1551.1,2055 1510.9,2051.1 1474.5,2045.6 1438,2035.4 1405.1,2020 1381.8,2011.7 1365,2006.9 1352.9,2002.5 1343.1,1998.4 1328.5,1995.1 1323,1994.2 1310.2,1994.8 1299.3,1995.6 1288.3,1997.3 1277.4,1999.6 1262.8,2001.3 1248.2,2002 1237.2,2002.5 1219,2002.1 1215.3,2000.8 1204.4,1996 1182.5,1979.7 1155.1,1959.3 1138.7,1944.1 1126.6,1933.2 1109.5,1920.4 1098.5,1912.5 1076.6,1905 1070.1,1902.5 1054.7,1890.2 1043.8,1880.7 1040.1,1877.1 1021.9,1857.8 1005.7,1845.5 993.6,1832.1 987.4,1831.4 965.5,1831.1 932.7,1834.2 914.5,1831.9 892.6,1826.5 855,1830.7 821.8,1832.7 788.9,1835.6 760,1832 727.6,1830.4 704.5,1825.4 685.6,1814.5 684.1,1814.5 663.7,1817.6 660.6,1819.7 643.4,1832.3 638.7,1837.5 629.3,1846.8 623,1846.8" fill="rgb(43,43,43)" fill-opacity="1.000"/></g>
<g fill="#fff" stroke="#000" stroke-width="5.3"><circle cx="529.7" cy="2264.2" r="12.6"/><circle cx="531.6" cy="2264.2" r="12.6"/><circle cx="532.7" cy="2264.2" r="12.6"/><circle cx="535.7" cy="2264.2" r="12.6"/><circle cx="538.6" cy="2264.2" r="12.6"/><circle cx="538.7" cy="2264.2" r="12.6"/><circle cx="541.7" cy="2264.2" r="12.6"/><circle cx="543.6" cy="2264.2" r="12.6"/><circle cx="544.7" cy="2264.2" r="12.6"/><circle cx="547.7" cy="2264.2" r="12.6"/><circle cx="550.7" cy="2264.2" r="12.6"/><circle cx="553.6" cy="2264.2" r="12.6"/><circle cx="553.7" cy="2264.2" r="12.6"/><circle cx="556.7" cy="2264.2" r="12.6"/><circle cx="558.3" cy="2264.2" r="12.6"/><circle cx="559.7" cy="2264.2" r="12.6"/><circle cx="561" cy="2264.2" r="12.6"/><circle cx="562.7" cy="2264.2" r="12.6"/><circle cx="565.7" cy="2264.2" r="12.6"/><circle cx="568.7" cy="2264.2" r="12.6"/><circle cx="571.7" cy="2264.2" r="12.6"/><circle cx="574.7" cy="2264.2" r="12.6"/><circle cx="577.7" cy="2264.2" r="12.6"/><circle cx="580.7" cy="2264.2" r="12.6"/><circle cx="583.3" cy="2264.2" r="12.6"/><circle cx="583.7" cy="2264.2" r="12.6"/><circle cx="586.7" cy="2264.2" r="12.6"/><circle cx="589.7" cy="2264.2" r="12.6"/><circle cx="592.7" cy="2264.2" r="12.6"/><circle cx="595.7" cy="2264.2" r="12.6"/><circle cx="598.7" cy="2264.2" r="12.6"/><circle cx="601.7" cy="2264.2" r="12.6"/><circle cx="604.7" cy="2264.2" r="12.6"/><circle cx="607.7" cy="2264.2" r="12.6"/><circle cx="610.7" cy="2264.2" r="12.6"/><circle cx="620.9" cy="2264.2" r="12.6"/><circle cx="628.1" cy="2264.2" r="12.6"/><circle cx="638.9" cy="2264.2" r="12.6"/><circle cx="650.5" cy="2264.2" r="12.6"/><circle cx="660.5" cy="2264.2" r="12.6"/><circle cx="672.8" cy="2264.2" r="12.6"/><circle cx="687.5" cy="2264.2" r="12.6"/><circle cx="698.3" cy="2264.2" r="12.6"/><circle cx="710.3" cy="2264.2" r="12.6"/><circle cx="755.4" cy="2264.2" r="12.6"/><circle cx="788.9" cy="2264.2" r="12.6"/><circle cx="821.8" cy="2264.2" r="12.6"/><circle cx="855" cy="2264.2" r="12.6"/><circle cx="898.8" cy="2264.2" r="12.6"/><circle cx="932.7" cy="2264.2" r="12.6"/><circle cx="965.5" cy="2264.2" r="12.6"/><circle cx="974.7" cy="2264.2" r="12.6"/><circle cx="993.6" cy="2264.2" r="12.6"/><circle cx="998.8" cy="2264.2" r="12.6"/><circle cx="1031" cy="2264.2" r="12.6"/><circle cx="1042" cy="2264.2" r="12.6"/><circle cx="1070.1" cy="2264.2" r="12.6"/><circle cx="1098.5" cy="2264.2" r="12.6"/><circle cx="1126.6" cy="2264.2" r="12.6"/><circle cx="1155.1" cy="2264.2" r="12.6"/><circle cx="1211.7" cy="2264.2" r="12.6"/><circle cx="1239.8" cy="2264.2" r="12.6"/><circle cx="1269" cy="2264.2" r="12.6"/><circle cx="1324.8" cy="2264.2" r="12.6"/><circle cx="1352.9" cy="2264.2" r="12.6"/><circle cx="1381.8" cy="2264.2" r="12.6"/><circle cx="1472.8" cy="2264.2" r="12.6"/><circle cx="1552.2" cy="2264.2" r="12.6"/><circle cx="1636.6" cy="2264.2" r="12.6"/><circle cx="1637.5" cy="2264.2" r="12.6"/><circle cx="1723.9" cy="2264.2" r="12.6"/><circle cx="1751.6" cy="2264.2" r="12.6"/><circle cx="1838.5" cy="2264.2" r="12.6"/><circle cx="1887.4" cy="2264.2" r="12.6"/><circle cx="1934.8" cy="2264.2" r="12.6"/><circle cx="1952.3" cy="2264.2" r="12.6"/><circle cx="1967.7" cy="2264.2" r="12.6"/><circle cx="1984.5" cy="2264.2" r="12.6"/><circle cx="1999.8" cy="2264.2" r="12.6"/><circle cx="2018.8" cy="2264.2" r="12.6"/><circle cx="2034.5" cy="2264.2" r="12.6"/><circle cx="2053.4" cy="2264.2" r="12.6"/><circle cx="2069.1" cy="2264.2" r="12.6"/><circle cx="2082.6" cy="2264.2" r="12.6"/><circle cx="2117.7" cy="2264.2" r="12.6"/><circle cx="2117.7" cy="2264.2" r="12.6"/><circle cx="2152.9" cy="2264.2" r="12.6"/><circle cx="2169.3" cy="2264.2" r="12.6"/><circle cx="2187.9" cy="2264.2" r="12.6"/><circle cx="2199.9" cy="2264.2" r="12.6"/><circle cx="2224" cy="2264.2" r="12.6"/><circle cx="2241.2" cy="2264.2" r="12.6"/><circle cx="2260.9" cy="2264.2" r="12.6"/><circle cx="2277.7" cy="2264.2" r="12.6"/><circle cx="2297.8" cy="2264.2" r="12.6"/><circle cx="2334.3" cy="2264.2" r="12.6"/><circle cx="2370.4" cy="2264.2" r="12.6"/><circle cx="2388.7" cy="2264.2" r="12.6"/><circle cx="2483.6" cy="2264.2" r="12.6"/><circle cx="2558" cy="2264.2" r="12.6"/><circle cx="2575.9" cy="2264.2" r="12.6"/></g>
<polyline points="531.6,1743.8 533.6,1557 534.9,1722 536.2,1517 537.5,1677 538.6,1421.2 540.2,1707 541.4,1537 542.6,1747 543.6,1939.4 545.6,1597 553.6,1468.3 558.3,1503.4 561,1575.2 583.3,1725.2 628.1,1729.1 638.9,1795.5 650.5,1559 660.5,1542.4 672.8,1494.9 687.5,1611.4 698.3,1670.5 710.3,1730.6 755.4,1654.6 788.9,1712.5 821.8,1549.8 855,1685.2 898.8,1642.5 932.7,1648.7 965.5,1797.6 974.7,1564.7 993.6,1684.4 998.8,1609.6 1031,1728.8 1042,1729.9 1070.1,1851.8 1098.5,1869.3 1126.6,1883.9 1155.1,2009.1 1211.7,1992.7 1239.8,1902.9 1269,1893.8 1324.8,1806.9 1352.9,1804.7 1381.8,2021.2 1438,2035.8 1636.6,1863.7 1723.9,1940.1 1751.6,1912.8 1838.5,1752.4 1887.4,1843.6 1934.8,1897.4 1952.3,1822.5 1967.7,1909.6 1984.5,1917.4 1999.8,1456.4 2018.8,1847.3 2034.5,1612.6 2053.4,1764.8 2069.1,1750.6 2082.6,1809 2117.7,1788.9 2152.9,1684.6 2169.3,1594.5 2187.9,1421.8 2199.9,1528.4 2224,1407.6 2241.2,1533.9 2260.9,1611.6 2277.7,1533.5 2297.8,1608.4 2334.3,1890.9 2370.4,1685.7 2388.7,1534.6 2483.6,1457.6 2558,1713.5 2575.9,1623.3" fill="none" stroke="#3366FF" stroke-width="5.4" stroke-linecap="round" stroke-linejoin="round" stroke-dasharray="4.5 20.5" />
<polyline points="531.6,1909.8 533.6,1723 534.9,1888 536.2,1683 537.5,1843 538.6,1587.2 540.2,1873 541.4,1703 542.6,1913 543.6,2105.4 545.6,1763 553.6,1634.3 558.3,1669.4 561,1741.2 583.3,1891.2 628.1,1895.1 638.9,1961.5 650.5,1725 660.5,1708.4 672.8,1660.9 687.5,1777.4 698.3,1836.5 710.3,1896.6 755.4,1820.6 788.9,1878.5 821.8,1715.8 855,1851.2 898.8,1808.5 932.7,1814.7 965.5,1963.6 974.7,1730.7 993.6,1850.4 998.8,1775.6 1031,1894.8 1042,1895.9 1070.1,2017.8 1098.5,2035.3 1126.6,2049.9 1155.1,2175.1 1211.7,2158.7 1239.8,2068.9 1269,2059.8 1324.8,1972.9 1352.9,1970.7 1381.8,2187.2 1438,2201.8 1636.6,2029.7 1723.9,2106.1 1751.6,2078.8 1838.5,1918.4 1887.4,2009.6 1934.8,2063.4 1952.3,1988.5 1967.7,2075.6 1984.5,2083.4 1999.8,1622.4 2018.8,2013.3 2034.5,1778.6 2053.4,1930.8 2069.1,1916.6 2082.6,1975 2117.7,1954.9 2152.9,1850.6 2169.3,1760.5 2187.9,1587.8 2199.9,1694.4 2224,1573.6 2241.2,1699.9 2260.9,1777.6 2277.7,1699.5 2297.8,1774.4 2334.3,2056.9 2370.4,1851.7 2388.7,1700.6 2483.6,1623.6 2558,1879.5 2575.9,1789.3" fill="none" stroke="#3366FF" stroke-width="5.4" stroke-linecap="round" stroke-linejoin="round" stroke-dasharray="4.5 20.5" />
<polyline points="531.6,1826.8 533.6,1640 534.9,1805 536.2,1600 537.5,1760 538.6,1504.2 540.2,1790 541.4,1620 542.6,1830 543.6,2022.4 545.6,1680 553.6,1551.3 558.3,1586.4 561,1658.2 583.3,1808.2 628.1,1812.1 638.9,1878.5 650.5,1642 660.5,1625.4 672.8,1577.9 687.5,1694.4 698.3,1753.5 710.3,1813.6 755.4,1737.6 788.9,1795.5 821.8,1632.8 855,1768.2 898.8,1725.5 932.7,1731.7 965.5,1880.6 974.7,1647.7 993.6,1767.4 998.8,1692.6 1031,1811.8 1042,1812.9 1070.1,1934.8 1098.5,1952.3 1126.6,1966.9 1155.1,2092.1 1211.7,2075.7 1239.8,1985.9 1269,1976.8 1324.8,1889.9 1352.9,1887.7 1381.8,2104.2 1438,2118.8 1636.6,1946.7 1723.9,2023.1 1751.6,1995.8 1838.5,1835.4 1887.4,1926.6 1934.8,1980.4 1952.3,1905.5 1967.7,1992.6 1984.5,2000.4 1999.8,1539.4 2018.8,1930.3 2034.5,1695.6 2053.4,1847.8 2069.1,1833.6 2082.6,1892 2117.7,1871.9 2152.9,1767.6 2169.3,1677.5 2187.9,1504.8 2199.9,1611.4 2224,1490.6 2241.2,1616.9 2260.9,1694.6 2277.7,1616.5 2297.8,1691.4 2334.3,1973.9 2370.4,1768.7 2388.7,1617.6 2483.6,1540.6 2558,1796.5 2575.9,1706.3" fill="none" stroke="#3366FF" stroke-width="5.2" stroke-linecap="round" stroke-linejoin="round" />
<g fill="#000"><circle cx="531.6" cy="1826.8" r="5.3"/><circle cx="538.6" cy="1504.2" r="5.3"/><circle cx="543.6" cy="2022.4" r="5.3"/><circle cx="553.6" cy="1551.3" r="5.3"/><circle cx="558.3" cy="1586.4" r="5.3"/><circle cx="561" cy="1658.2" r="5.3"/><circle cx="583.3" cy="1808.2" r="5.3"/><circle cx="628.1" cy="1812.1" r="5.3"/><circle cx="638.9" cy="1878.5" r="5.3"/><circle cx="650.5" cy="1642" r="5.3"/><circle cx="660.5" cy="1625.4" r="5.3"/><circle cx="672.8" cy="1577.9" r="5.3"/><circle cx="687.5" cy="1694.4" r="5.3"/><circle cx="698.3" cy="1753.5" r="5.3"/><circle cx="710.3" cy="1813.6" r="5.3"/><circle cx="755.4" cy="1737.6" r="5.3"/><circle cx="788.9" cy="1795.5" r="5.3"/><circle cx="821.8" cy="1632.8" r="5.3"/><circle cx="855" cy="1768.2" r="5.3"/><circle cx="898.8" cy="1725.5" r="5.3"/><circle cx="932.7" cy="1731.7" r="5.3"/><circle cx="965.5" cy="1880.6" r="5.3"/><circle cx="974.7" cy="1647.7" r="5.3"/><circle cx="993.6" cy="1767.4" r="5.3"/><circle cx="998.8" cy="1692.6" r="5.3"/><circle cx="1031" cy="1811.8" r="5.3"/><circle cx="1042" cy="1812.9" r="5.3"/><circle cx="1070.1" cy="1934.8" r="5.3"/><circle cx="1098.5" cy="1952.3" r="5.3"/><circle cx="1126.6" cy="1966.9" r="5.3"/><circle cx="1155.1" cy="2092.1" r="5.3"/><circle cx="1211.7" cy="2075.7" r="5.3"/><circle cx="1239.8" cy="1985.9" r="5.3"/><circle cx="1269" cy="1976.8" r="5.3"/><circle cx="1324.8" cy="1889.9" r="5.3"/><circle cx="1352.9" cy="1887.7" r="5.3"/><circle cx="1381.8" cy="2104.2" r="5.3"/><circle cx="1438" cy="2118.8" r="5.3"/><circle cx="1636.6" cy="1946.7" r="5.3"/><circle cx="1723.9" cy="2023.1" r="5.3"/><circle cx="1751.6" cy="1995.8" r="5.3"/><circle cx="1838.5" cy="1835.4" r="5.3"/><circle cx="1887.4" cy="1926.6" r="5.3"/><circle cx="1934.8" cy="1980.4" r="5.3"/><circle cx="1952.3" cy="1905.5" r="5.3"/><circle cx="1967.7" cy="1992.6" r="5.3"/><circle cx="1984.5" cy="2000.4" r="5.3"/><circle cx="1999.8" cy="1539.4" r="5.3"/><circle cx="2018.8" cy="1930.3" r="5.3"/><circle cx="2034.5" cy="1695.6" r="5.3"/><circle cx="2053.4" cy="1847.8" r="5.3"/><circle cx="2069.1" cy="1833.6" r="5.3"/><circle cx="2082.6" cy="1892" r="5.3"/><circle cx="2117.7" cy="1871.9" r="5.3"/><circle cx="2152.9" cy="1767.6" r="5.3"/><circle cx="2169.3" cy="1677.5" r="5.3"/><circle cx="2187.9" cy="1504.8" r="5.3"/><circle cx="2199.9" cy="1611.4" r="5.3"/><circle cx="2224" cy="1490.6" r="5.3"/><circle cx="2241.2" cy="1616.9" r="5.3"/><circle cx="2260.9" cy="1694.6" r="5.3"/><circle cx="2277.7" cy="1616.5" r="5.3"/><circle cx="2297.8" cy="1691.4" r="5.3"/><circle cx="2334.3" cy="1973.9" r="5.3"/><circle cx="2370.4" cy="1768.7" r="5.3"/><circle cx="2388.7" cy="1617.6" r="5.3"/><circle cx="2483.6" cy="1540.6" r="5.3"/><circle cx="2558" cy="1796.5" r="5.3"/><circle cx="2575.9" cy="1706.3" r="5.3"/></g>
<polyline points="530.7,1564.5 534.4,1589.6 535.4,1614.6 546.3,1627.2 551,1611.5 555.1,1599 560.4,1620.9 566.7,1605.2 572.9,1620.9 577.6,1597.4 579.2,1617.8 582.3,1671 590.1,1636.5 599.5,1655.3 603.6,1680.4 606.4,1721.1 615.2,1688.2 623,1686.6 638.7,1672.5 660.6,1660 684.1,1655.3 704.5,1665.5 727.6,1667.4 760,1667.4 788.9,1676.9 821.8,1669.6 855,1669.6 892.6,1663.4 914.5,1673.3 932.7,1680.6 965.5,1687.9 987.4,1693.4 1005.7,1706.1 1021.9,1716.9 1040.1,1740.7 1054.7,1755.3 1076.6,1769.9 1109.5,1784.5 1138.7,1802.7 1155.1,1815.5 1182.5,1837.4 1215.3,1861.1 1237.2,1865.8 1262.8,1862.9 1288.3,1852 1310.2,1850.1 1328.5,1852 1352.9,1862.2 1381.8,1865.8 1405.1,1870.2 1438,1881.2 1474.5,1891.4 1510.9,1893.9 1551.1,1898.7 1596.5,1892.7 1633,1888.3 1665.8,1876.3 1695,1867.2 1720.6,1862.8 1760.7,1841.6 1797.2,1830.7 1838.5,1827 1877.5,1823.4 1906.7,1819 1934.8,1817.9 1967.7,1812.4 1984.5,1805.8 2012.6,1775.9 2034.5,1750.4 2053.4,1730.3 2070.9,1710.2 2082.6,1699.3 2100.1,1694.9 2117.7,1688.3 2145.6,1672 2156.5,1650.1 2171.1,1602.7 2189.4,1573.5 2204,1566.2 2236.1,1565.4 2260.9,1553.4 2280.6,1535.1 2297.8,1537 2317.1,1551.6 2335.4,1562.5 2353.6,1564.3 2375.5,1555.2 2391.9,1537 2412,1526 2430.3,1520.5 2455.8,1518 2483.6,1518.7 2506.9,1520.5 2532.5,1525.3 2552.5,1529.7 2570.8,1546.1 2594.5,1540.6 2643.8,1526" fill="none" stroke="#FF0000" stroke-width="5.4" stroke-linecap="round" stroke-linejoin="round" stroke-dasharray="5 18.5" />
<polyline points="530.7,1868.2 533.8,1862 543.2,1846.3 546.3,1871.4 547.9,1893.3 552.6,1849.4 558.8,1844.7 565.1,1844.7 571.4,1865.1 579.2,1890.1 581.4,1915.2 583.3,1937.1 588.6,1912.1 594.8,1918.3 601.1,1924.6 605.8,1968.4 608.9,1930.8 615.2,1921.5 621.4,1912.1 629.3,1887 643.4,1869.8 663.7,1854.1 685.6,1851 704.5,1862.3 727.6,1868 760,1870 788.9,1872.2 821.8,1870.4 855,1867.8 892.6,1864.2 914.5,1868.5 932.7,1869.6 965.5,1864.2 993.6,1863.1 1005.7,1877.7 1021.9,1890.3 1043.8,1912.2 1070.1,1934.1 1098.5,1943.2 1126.6,1965.1 1155.1,1992.5 1182.5,2012.6 1204.4,2029 1219,2034.5 1248.2,2033.7 1277.4,2032.6 1299.3,2029 1323,2027.2 1343.1,2030.8 1365,2039.9 1381.8,2045.4 1405.1,2054.5 1438,2070.9 1474.5,2081.2 1510.9,2087.4 1551.1,2091 1596.5,2086.1 1633,2078.8 1665.8,2071.5 1695,2056.9 1720.6,2042.3 1760.7,2024.1 1797.2,2016.1 1838.5,2004 1877.5,1998.5 1906.7,1991.2 1934.8,1983.2 1967.7,1974.8 1984.5,1965.7 2012.6,1936.5 2034.5,1910.9 2053.4,1892.7 2070.9,1874.5 2082.6,1863.5 2100.1,1859.1 2117.7,1854.4 2145.6,1834.4 2156.5,1810.7 2171.1,1766.9 2185.7,1743.2 2204,1726.8 2229.5,1724.9 2251.4,1719.5 2273.3,1704.9 2291.6,1701.2 2317.1,1719.5 2335.4,1732.2 2357.3,1735.9 2375.5,1726.8 2391.9,1714 2412,1715.1 2430.3,1715.8 2455.8,1714 2483.6,1710.3 2506.9,1714 2532.5,1723.1 2552.5,1730.4 2570.8,1748.7 2594.5,1765.1 2643.8,1783.3" fill="none" stroke="#FF0000" stroke-width="5.4" stroke-linecap="round" stroke-linejoin="round" stroke-dasharray="5 18.5" />
<polyline points="529.1,1699.2 533.8,1739.9 538.5,1724.2 543.2,1755.5 547.9,1777.4 552.6,1711.7 557.3,1739.9 562,1721.1 566.7,1743 572.9,1730.5 577.6,1739.9 583.3,1818.1 588.6,1771.2 593.3,1790 598,1780.6 605.8,1849.4 612.1,1799.3 616.8,1815 623,1790 634,1774.3 649.6,1760.2 665.3,1754 680.9,1751.8 695,1755.5 710.3,1763.1 731.5,1765.8 760,1770.4 788.9,1775.5 821.8,1768.9 855,1767.4 892.6,1763.4 914.5,1771.8 932.7,1775.5 965.5,1776.6 993.6,1775.5 1005.7,1791.9 1021.9,1799.1 1047.4,1835.5 1076.6,1855.6 1091.2,1855.6 1120.4,1872 1155.1,1904.9 1182.5,1925 1215.3,1948.7 1233.6,1951.2 1251.8,1950.5 1277.4,1945 1299.3,1943.2 1323,1939.6 1352.9,1950.5 1381.8,1956 1405.1,1961.5 1438,1974.2 1474.5,1985.2 1510.9,1989.9 1551.1,1993.6 1596.5,1987.6 1633,1983.2 1665.8,1972.3 1695,1962 1720.6,1954.7 1760.7,1931 1797.2,1922.6 1838.5,1914.6 1877.5,1910.9 1906.7,1904.4 1934.8,1901.8 1967.7,1892.7 1984.5,1885.4 2012.6,1861.7 2034.5,1834.3 2053.4,1816.1 2070.9,1786.9 2082.6,1775.9 2100.1,1774.1 2117.7,1772.3 2145.6,1752.3 2156.5,1726.8 2171.1,1683 2193,1651.9 2204,1647.2 2236.1,1644.6 2260.9,1635.5 2284.3,1619.1 2297.8,1623.8 2317.1,1637.3 2335.4,1650.8 2370.4,1649.4 2388.7,1631.9 2397.4,1624.6 2430.3,1620.9 2455.8,1617.3 2483.6,1614.3 2506.9,1618 2532.5,1622.7 2552.5,1627.5 2565.3,1641 2575.9,1650.1 2643.8,1650.8" fill="none" stroke="#FF0000" stroke-width="6.5" stroke-linecap="round" stroke-linejoin="round" />
</g>
<rect x="445.2" y="20.7" width="2279.9" height="1020.3" fill="none" stroke="#000" stroke-width="5.8" stroke-linejoin="round"/>
<rect x="445.2" y="1281.1" width="2279.9" height="1019.8000000000002" fill="none" stroke="#000" stroke-width="5.8" stroke-linejoin="round"/>
<path d="M530 1041.0 V1092 M530 2300.9 V2351.9 M1116.3 1041.0 V1092 M1116.3 2300.9 V2351.9 M1702.7 1041.0 V1092 M1702.7 2300.9 V2351.9 M2289.1 1041.0 V1092 M2289.1 2300.9 V2351.9 M445.2 925.3 H394.6 M445.2 767.8 H394.6 M445.2 610.3 H394.6 M445.2 452.9 H394.6 M445.2 295.4 H394.6 M445.2 138 H394.6 M445.2 1319.6 H394.6 M445.2 1488.3 H394.6 M445.2 1657 H394.6 M445.2 1825.7 H394.6 M445.2 1994.3 H394.6 M445.2 2163 H394.6" stroke="#000" stroke-width="5.6" stroke-linecap="round" fill="none"/>
<g stroke="#000" stroke-width="5.8">
<rect x="530" y="1162.7" width="302.6" height="87.3" fill="#FAFA80"/>
<rect x="832.6" y="1162.7" width="322.8" height="87.3" fill="#E6E650"/>
<rect x="1155.4" y="1162.7" width="1569.7" height="87.3" fill="#CDCD1E"/>
</g>
<g font-size="69" text-anchor="middle" fill="#000">
<text x="681.3" y="1228.6">Q</text>
<text x="994" y="1228.6">Pliocene</text>
<text x="1940.3" y="1228.6">Miocene</text>
</g>
<g font-size="85.5" fill="#000">
<text x="484.6" y="113.2" font-size="84">(a)</text>
<text x="484.6" y="1374.5" font-size="84">(b)</text>
<text x="530" y="2486" text-anchor="middle">0</text>
<text x="1116.3" y="2486" text-anchor="middle">5</text>
<text x="1702.7" y="2486" text-anchor="middle">10</text>
<text x="2289.1" y="2486" text-anchor="middle">15</text>
<text x="1583.5" y="2689.8" text-anchor="middle" font-size="84.3">Age (Ma)</text>
<text transform="translate(324,925.3) rotate(-90)" text-anchor="middle">-2</text>
<text transform="translate(324,767.8) rotate(-90)" text-anchor="middle">0</text>
<text transform="translate(324,610.3) rotate(-90)" text-anchor="middle">2</text>
<text transform="translate(324,452.9) rotate(-90)" text-anchor="middle">4</text>
<text transform="translate(324,295.4) rotate(-90)" text-anchor="middle">6</text>
<text transform="translate(324,138) rotate(-90)" text-anchor="middle">8</text>
<text transform="translate(324,1488.3) rotate(-90)" text-anchor="middle">-1.0</text>
<text transform="translate(324,1825.7) rotate(-90)" text-anchor="middle">0.0</text>
<text transform="translate(324,2163) rotate(-90)" text-anchor="middle">1.0</text>
<text transform="translate(104.5,530) rotate(-90)" text-anchor="middle" font-size="87">BWT (° C)</text>
<g transform="translate(103.8,1790.7) rotate(-90)" font-size="86">
<text x="-400.5" y="0">δ</text>
<text x="-357" y="-44" font-size="60">18</text>
<text x="-292" y="0">O</text>
<text x="-225" y="15.8" font-size="61">sw</text>
<text x="-128.8" y="0">(</text>
<text x="-104" y="0">‰</text>
<text x="-15.5" y="0">,</text>
<text x="32" y="0">VSMOW)</text>
</g>
</g>
</svg>
</body></html>
